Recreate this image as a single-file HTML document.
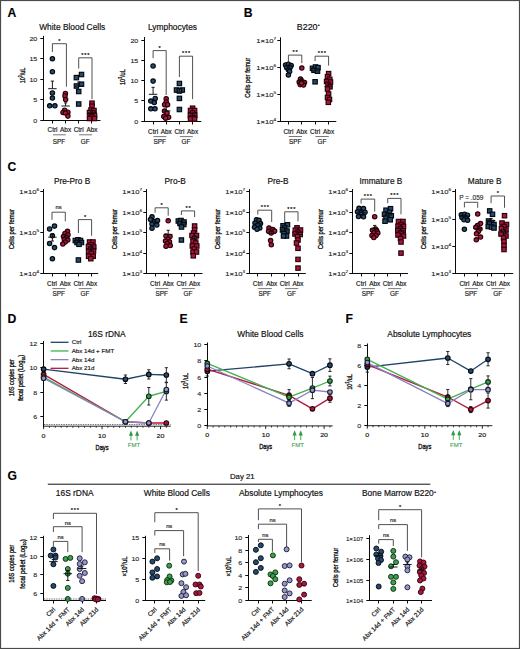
<!DOCTYPE html>
<html><head><meta charset="utf-8"><style>
html,body{margin:0;padding:0;background:#fff;}
svg{display:block;font-family:"Liberation Sans", sans-serif;}
</style></head><body>
<svg width="520" height="649" viewBox="0 0 520 649">
<rect width="520" height="649" fill="#fff"/>
<rect x="0.5" y="0.5" width="519" height="648" fill="none" stroke="#4a4a4a" stroke-width="1.2"/>
<text x="7.6" y="16.5" font-size="12.2" font-weight="bold" stroke="#000" stroke-width="0.1">A</text>
<text x="243.8" y="16.5" font-size="12.2" font-weight="bold" stroke="#000" stroke-width="0.1">B</text>
<text x="7.4" y="171" font-size="12.2" font-weight="bold" stroke="#000" stroke-width="0.1">C</text>
<text x="7.6" y="322.7" font-size="12.2" font-weight="bold" stroke="#000" stroke-width="0.1">D</text>
<text x="179.5" y="322.7" font-size="12.2" font-weight="bold" stroke="#000" stroke-width="0.1">E</text>
<text x="345.5" y="322.7" font-size="12.2" font-weight="bold" stroke="#000" stroke-width="0.1">F</text>
<text x="7.4" y="479.5" font-size="12.2" font-weight="bold" stroke="#000" stroke-width="0.1">G</text>
<line x1="43.5" y1="35.9" x2="43.5" y2="121" stroke="#0a0a0a" stroke-width="1"/>
<line x1="40.3" y1="120.5" x2="43.5" y2="120.5" stroke="#0a0a0a" stroke-width="1"/>
<text x="37.3" y="122.66" font-size="6" text-anchor="end" fill="#1a1a1a" stroke="#1a1a1a" stroke-width="0.1" transform="translate(37.3 122.66) scale(1.18 1) translate(-37.3 -122.66)">0</text>
<line x1="40.3" y1="99.5" x2="43.5" y2="99.5" stroke="#0a0a0a" stroke-width="1"/>
<text x="37.3" y="101.66" font-size="6" text-anchor="end" fill="#1a1a1a" stroke="#1a1a1a" stroke-width="0.1" transform="translate(37.3 101.66) scale(1.18 1) translate(-37.3 -101.66)">5</text>
<line x1="40.3" y1="79.5" x2="43.5" y2="79.5" stroke="#0a0a0a" stroke-width="1"/>
<text x="37.3" y="81.66" font-size="6" text-anchor="end" fill="#1a1a1a" stroke="#1a1a1a" stroke-width="0.1" transform="translate(37.3 81.66) scale(1.18 1) translate(-37.3 -81.66)">10</text>
<line x1="40.3" y1="58.5" x2="43.5" y2="58.5" stroke="#0a0a0a" stroke-width="1"/>
<text x="37.3" y="60.66" font-size="6" text-anchor="end" fill="#1a1a1a" stroke="#1a1a1a" stroke-width="0.1" transform="translate(37.3 60.66) scale(1.18 1) translate(-37.3 -60.66)">15</text>
<line x1="40.3" y1="38.5" x2="43.5" y2="38.5" stroke="#0a0a0a" stroke-width="1"/>
<text x="37.3" y="40.66" font-size="6" text-anchor="end" fill="#1a1a1a" stroke="#1a1a1a" stroke-width="0.1" transform="translate(37.3 40.66) scale(1.18 1) translate(-37.3 -40.66)">20</text>
<line x1="43" y1="120.5" x2="100.5" y2="120.5" stroke="#0a0a0a" stroke-width="1"/>
<line x1="52.5" y1="120.5" x2="52.5" y2="123.5" stroke="#0a0a0a" stroke-width="1"/>
<line x1="65.5" y1="120.5" x2="65.5" y2="123.5" stroke="#0a0a0a" stroke-width="1"/>
<line x1="78.5" y1="120.5" x2="78.5" y2="123.5" stroke="#0a0a0a" stroke-width="1"/>
<line x1="91.5" y1="120.5" x2="91.5" y2="123.5" stroke="#0a0a0a" stroke-width="1"/>
<text x="72.2" y="30" font-size="8.4" text-anchor="middle" fill="#111" stroke="#111" stroke-width="0.18">White Blood Cells</text>
<polyline points="52.4,52 52.4,43.7 66.4,43.7 66.4,86.7" fill="none" stroke="#484848" stroke-width="0.95" stroke-linejoin="round"/>
<text x="59.4" y="42.6" font-size="5.6" text-anchor="middle" fill="#111" stroke="#111" stroke-width="0.2">*</text>
<polyline points="78.7,68.6 78.7,57.8 92,57.8 92,99.1" fill="none" stroke="#484848" stroke-width="0.95" stroke-linejoin="round"/>
<text x="82.35" y="56.7" font-size="5.6" text-anchor="middle" fill="#111" stroke="#111" stroke-width="0.2">*</text>
<text x="85.35" y="56.7" font-size="5.6" text-anchor="middle" fill="#111" stroke="#111" stroke-width="0.2">*</text>
<text x="88.35" y="56.7" font-size="5.6" text-anchor="middle" fill="#111" stroke="#111" stroke-width="0.2">*</text>
<circle cx="52.4" cy="58.7" r="2.2" fill="#244b6e" stroke="#03080e" stroke-width="1.15"/>
<circle cx="52.4" cy="71.7" r="2.2" fill="#244b6e" stroke="#03080e" stroke-width="1.15"/>
<circle cx="52.4" cy="92.9" r="2.2" fill="#244b6e" stroke="#03080e" stroke-width="1.15"/>
<circle cx="52.4" cy="98" r="2.2" fill="#244b6e" stroke="#03080e" stroke-width="1.15"/>
<circle cx="49.7" cy="105.8" r="2.2" fill="#244b6e" stroke="#03080e" stroke-width="1.15"/>
<circle cx="54.9" cy="105.8" r="2.2" fill="#244b6e" stroke="#03080e" stroke-width="1.15"/>
<circle cx="65.4" cy="93.4" r="2.2" fill="#a9173e" stroke="#2a0108" stroke-width="1.15"/>
<circle cx="65" cy="95.9" r="2.2" fill="#a9173e" stroke="#2a0108" stroke-width="1.15"/>
<circle cx="65.6" cy="99.6" r="2.2" fill="#a9173e" stroke="#2a0108" stroke-width="1.15"/>
<circle cx="64.6" cy="110.2" r="2.2" fill="#a9173e" stroke="#2a0108" stroke-width="1.15"/>
<circle cx="63" cy="112.4" r="2.2" fill="#a9173e" stroke="#2a0108" stroke-width="1.15"/>
<circle cx="67.9" cy="112.2" r="2.2" fill="#a9173e" stroke="#2a0108" stroke-width="1.15"/>
<circle cx="65.4" cy="113" r="2.2" fill="#a9173e" stroke="#2a0108" stroke-width="1.15"/>
<circle cx="67.9" cy="116.1" r="2.2" fill="#a9173e" stroke="#2a0108" stroke-width="1.15"/>
<rect x="79.3" y="72.3" width="4.4" height="4.4" fill="#244b6e" stroke="#03080e" stroke-width="1.15"/>
<rect x="74.2" y="75.4" width="4.4" height="4.4" fill="#244b6e" stroke="#03080e" stroke-width="1.15"/>
<rect x="79.3" y="82" width="4.4" height="4.4" fill="#244b6e" stroke="#03080e" stroke-width="1.15"/>
<rect x="74.2" y="83.8" width="4.4" height="4.4" fill="#244b6e" stroke="#03080e" stroke-width="1.15"/>
<rect x="76.5" y="89.3" width="4.4" height="4.4" fill="#244b6e" stroke="#03080e" stroke-width="1.15"/>
<rect x="76.5" y="101.8" width="4.4" height="4.4" fill="#244b6e" stroke="#03080e" stroke-width="1.15"/>
<rect x="89.8" y="101" width="4.4" height="4.4" fill="#a9173e" stroke="#2a0108" stroke-width="1.15"/>
<rect x="89.8" y="104" width="4.4" height="4.4" fill="#a9173e" stroke="#2a0108" stroke-width="1.15"/>
<rect x="88.8" y="107.8" width="4.4" height="4.4" fill="#a9173e" stroke="#2a0108" stroke-width="1.15"/>
<rect x="91.8" y="108.3" width="4.4" height="4.4" fill="#a9173e" stroke="#2a0108" stroke-width="1.15"/>
<rect x="87.3" y="110.3" width="4.4" height="4.4" fill="#a9173e" stroke="#2a0108" stroke-width="1.15"/>
<rect x="90.8" y="110.8" width="4.4" height="4.4" fill="#a9173e" stroke="#2a0108" stroke-width="1.15"/>
<rect x="87.8" y="113.3" width="4.4" height="4.4" fill="#a9173e" stroke="#2a0108" stroke-width="1.15"/>
<rect x="92.3" y="113.3" width="4.4" height="4.4" fill="#a9173e" stroke="#2a0108" stroke-width="1.15"/>
<rect x="89.3" y="114.8" width="4.4" height="4.4" fill="#a9173e" stroke="#2a0108" stroke-width="1.15"/>
<rect x="87.3" y="116.3" width="4.4" height="4.4" fill="#a9173e" stroke="#2a0108" stroke-width="1.15"/>
<rect x="92.3" y="116.3" width="4.4" height="4.4" fill="#a9173e" stroke="#2a0108" stroke-width="1.15"/>
<line x1="48.15" y1="88.7" x2="56.65" y2="88.7" stroke="#111" stroke-width="0.95"/>
<line x1="52.4" y1="81.1" x2="52.4" y2="88.7" stroke="#111" stroke-width="0.95"/>
<line x1="50.8" y1="81.1" x2="54" y2="81.1" stroke="#111" stroke-width="0.95"/>
<line x1="61.35" y1="106" x2="69.85" y2="106" stroke="#111" stroke-width="0.95"/>
<line x1="65.6" y1="102.9" x2="65.6" y2="106" stroke="#111" stroke-width="0.95"/>
<line x1="64" y1="102.9" x2="67.2" y2="102.9" stroke="#111" stroke-width="0.95"/>
<line x1="74.45" y1="86.2" x2="82.95" y2="86.2" stroke="#111" stroke-width="0.95"/>
<line x1="78.7" y1="82" x2="78.7" y2="86.2" stroke="#111" stroke-width="0.95"/>
<line x1="77.1" y1="82" x2="80.3" y2="82" stroke="#111" stroke-width="0.95"/>
<line x1="87.95" y1="112.8" x2="96.45" y2="112.8" stroke="#111" stroke-width="0.95"/>
<line x1="92.2" y1="110.5" x2="92.2" y2="112.8" stroke="#111" stroke-width="0.95"/>
<line x1="90.6" y1="110.5" x2="93.8" y2="110.5" stroke="#111" stroke-width="0.95"/>
<text x="24.5" y="75.5" font-size="7.6" text-anchor="middle" fill="#111" stroke="#111" stroke-width="0.32" transform="rotate(-90 24.5 75.5)" textLength="15.6" lengthAdjust="spacingAndGlyphs">10<tspan font-size="4.5" dy="-2.9">3</tspan><tspan dy="2.9">/uL</tspan></text>
<text x="52.5" y="131.8" font-size="6.4" text-anchor="middle" fill="#1a1a1a" stroke="#1a1a1a" stroke-width="0.18">Ctrl</text>
<text x="65.6" y="131.8" font-size="6.4" text-anchor="middle" fill="#1a1a1a" stroke="#1a1a1a" stroke-width="0.18">Abx</text>
<text x="78.7" y="131.8" font-size="6.4" text-anchor="middle" fill="#1a1a1a" stroke="#1a1a1a" stroke-width="0.18">Ctrl</text>
<text x="91.9" y="131.8" font-size="6.4" text-anchor="middle" fill="#1a1a1a" stroke="#1a1a1a" stroke-width="0.18">Abx</text>
<line x1="52.9" y1="134.8" x2="65.8" y2="134.8" stroke="#555" stroke-width="0.8"/>
<line x1="79.1" y1="134.8" x2="92.1" y2="134.8" stroke="#555" stroke-width="0.8"/>
<text x="59.05" y="143.7" font-size="6.4" text-anchor="middle" fill="#1a1a1a" stroke="#1a1a1a" stroke-width="0.18">SPF</text>
<text x="85.3" y="143.7" font-size="6.4" text-anchor="middle" fill="#1a1a1a" stroke="#1a1a1a" stroke-width="0.18">GF</text>
<line x1="144.5" y1="37" x2="144.5" y2="122" stroke="#0a0a0a" stroke-width="1"/>
<line x1="141.3" y1="121.5" x2="144.5" y2="121.5" stroke="#0a0a0a" stroke-width="1"/>
<text x="138.3" y="123.66" font-size="6" text-anchor="end" fill="#1a1a1a" stroke="#1a1a1a" stroke-width="0.1" transform="translate(138.3 123.66) scale(1.18 1) translate(-138.3 -123.66)">0</text>
<line x1="141.3" y1="100.5" x2="144.5" y2="100.5" stroke="#0a0a0a" stroke-width="1"/>
<text x="138.3" y="102.66" font-size="6" text-anchor="end" fill="#1a1a1a" stroke="#1a1a1a" stroke-width="0.1" transform="translate(138.3 102.66) scale(1.18 1) translate(-138.3 -102.66)">5</text>
<line x1="141.3" y1="80.5" x2="144.5" y2="80.5" stroke="#0a0a0a" stroke-width="1"/>
<text x="138.3" y="82.66" font-size="6" text-anchor="end" fill="#1a1a1a" stroke="#1a1a1a" stroke-width="0.1" transform="translate(138.3 82.66) scale(1.18 1) translate(-138.3 -82.66)">10</text>
<line x1="141.3" y1="60.5" x2="144.5" y2="60.5" stroke="#0a0a0a" stroke-width="1"/>
<text x="138.3" y="62.66" font-size="6" text-anchor="end" fill="#1a1a1a" stroke="#1a1a1a" stroke-width="0.1" transform="translate(138.3 62.66) scale(1.18 1) translate(-138.3 -62.66)">15</text>
<line x1="141.3" y1="40.5" x2="144.5" y2="40.5" stroke="#0a0a0a" stroke-width="1"/>
<text x="138.3" y="42.66" font-size="6" text-anchor="end" fill="#1a1a1a" stroke="#1a1a1a" stroke-width="0.1" transform="translate(138.3 42.66) scale(1.18 1) translate(-138.3 -42.66)">20</text>
<line x1="144" y1="121.5" x2="201.3" y2="121.5" stroke="#0a0a0a" stroke-width="1"/>
<line x1="153.5" y1="121.5" x2="153.5" y2="124.5" stroke="#0a0a0a" stroke-width="1"/>
<line x1="166.5" y1="121.5" x2="166.5" y2="124.5" stroke="#0a0a0a" stroke-width="1"/>
<line x1="179.5" y1="121.5" x2="179.5" y2="124.5" stroke="#0a0a0a" stroke-width="1"/>
<line x1="192.5" y1="121.5" x2="192.5" y2="124.5" stroke="#0a0a0a" stroke-width="1"/>
<text x="172.5" y="30" font-size="8.4" text-anchor="middle" fill="#111" stroke="#111" stroke-width="0.18">Lymphocytes</text>
<polyline points="153.1,58.2 153.1,50.6 166.2,50.6 166.2,95" fill="none" stroke="#484848" stroke-width="0.95" stroke-linejoin="round"/>
<text x="159.65" y="49.5" font-size="5.6" text-anchor="middle" fill="#111" stroke="#111" stroke-width="0.2">*</text>
<polyline points="179.4,77 179.4,56.2 192.6,56.2 192.6,99.1" fill="none" stroke="#484848" stroke-width="0.95" stroke-linejoin="round"/>
<text x="183" y="55.1" font-size="5.6" text-anchor="middle" fill="#111" stroke="#111" stroke-width="0.2">*</text>
<text x="186" y="55.1" font-size="5.6" text-anchor="middle" fill="#111" stroke="#111" stroke-width="0.2">*</text>
<text x="189" y="55.1" font-size="5.6" text-anchor="middle" fill="#111" stroke="#111" stroke-width="0.2">*</text>
<circle cx="153.1" cy="65.9" r="2.2" fill="#244b6e" stroke="#03080e" stroke-width="1.15"/>
<circle cx="153.1" cy="81.1" r="2.2" fill="#244b6e" stroke="#03080e" stroke-width="1.15"/>
<circle cx="155.2" cy="98.4" r="2.2" fill="#244b6e" stroke="#03080e" stroke-width="1.15"/>
<circle cx="150.8" cy="101" r="2.2" fill="#244b6e" stroke="#03080e" stroke-width="1.15"/>
<circle cx="154.3" cy="102.5" r="2.2" fill="#244b6e" stroke="#03080e" stroke-width="1.15"/>
<circle cx="150.8" cy="108.8" r="2.2" fill="#244b6e" stroke="#03080e" stroke-width="1.15"/>
<circle cx="155" cy="108.8" r="2.2" fill="#244b6e" stroke="#03080e" stroke-width="1.15"/>
<circle cx="166.2" cy="98.8" r="2.2" fill="#a9173e" stroke="#2a0108" stroke-width="1.15"/>
<circle cx="166.2" cy="102" r="2.2" fill="#a9173e" stroke="#2a0108" stroke-width="1.15"/>
<circle cx="164.6" cy="104.7" r="2.2" fill="#a9173e" stroke="#2a0108" stroke-width="1.15"/>
<circle cx="167.6" cy="104.7" r="2.2" fill="#a9173e" stroke="#2a0108" stroke-width="1.15"/>
<circle cx="164.5" cy="111" r="2.2" fill="#a9173e" stroke="#2a0108" stroke-width="1.15"/>
<circle cx="167" cy="113" r="2.2" fill="#a9173e" stroke="#2a0108" stroke-width="1.15"/>
<circle cx="163.8" cy="116.5" r="2.2" fill="#a9173e" stroke="#2a0108" stroke-width="1.15"/>
<circle cx="168.6" cy="117.3" r="2.2" fill="#a9173e" stroke="#2a0108" stroke-width="1.15"/>
<circle cx="165.6" cy="118.2" r="2.2" fill="#a9173e" stroke="#2a0108" stroke-width="1.15"/>
<rect x="177.2" y="81.3" width="4.4" height="4.4" fill="#244b6e" stroke="#03080e" stroke-width="1.15"/>
<rect x="174.3" y="87.8" width="4.4" height="4.4" fill="#244b6e" stroke="#03080e" stroke-width="1.15"/>
<rect x="180.1" y="87.8" width="4.4" height="4.4" fill="#244b6e" stroke="#03080e" stroke-width="1.15"/>
<rect x="177.2" y="88.8" width="4.4" height="4.4" fill="#244b6e" stroke="#03080e" stroke-width="1.15"/>
<rect x="177.2" y="96.2" width="4.4" height="4.4" fill="#244b6e" stroke="#03080e" stroke-width="1.15"/>
<rect x="177.2" y="107.3" width="4.4" height="4.4" fill="#244b6e" stroke="#03080e" stroke-width="1.15"/>
<rect x="190.4" y="106" width="4.4" height="4.4" fill="#a9173e" stroke="#2a0108" stroke-width="1.15"/>
<rect x="188.3" y="108.3" width="4.4" height="4.4" fill="#a9173e" stroke="#2a0108" stroke-width="1.15"/>
<rect x="192.4" y="108.3" width="4.4" height="4.4" fill="#a9173e" stroke="#2a0108" stroke-width="1.15"/>
<rect x="190.4" y="110.8" width="4.4" height="4.4" fill="#a9173e" stroke="#2a0108" stroke-width="1.15"/>
<rect x="188.2" y="113.1" width="4.4" height="4.4" fill="#a9173e" stroke="#2a0108" stroke-width="1.15"/>
<rect x="192.6" y="113.1" width="4.4" height="4.4" fill="#a9173e" stroke="#2a0108" stroke-width="1.15"/>
<rect x="190.4" y="115.3" width="4.4" height="4.4" fill="#a9173e" stroke="#2a0108" stroke-width="1.15"/>
<rect x="188.3" y="116.8" width="4.4" height="4.4" fill="#a9173e" stroke="#2a0108" stroke-width="1.15"/>
<rect x="192.4" y="116.8" width="4.4" height="4.4" fill="#a9173e" stroke="#2a0108" stroke-width="1.15"/>
<line x1="148.85" y1="94.3" x2="157.35" y2="94.3" stroke="#111" stroke-width="0.95"/>
<line x1="153.1" y1="87.3" x2="153.1" y2="94.3" stroke="#111" stroke-width="0.95"/>
<line x1="151.5" y1="87.3" x2="154.7" y2="87.3" stroke="#111" stroke-width="0.95"/>
<line x1="161.95" y1="110.9" x2="170.45" y2="110.9" stroke="#111" stroke-width="0.95"/>
<line x1="166.2" y1="106.8" x2="166.2" y2="110.9" stroke="#111" stroke-width="0.95"/>
<line x1="164.6" y1="106.8" x2="167.8" y2="106.8" stroke="#111" stroke-width="0.95"/>
<line x1="175.15" y1="92.3" x2="183.65" y2="92.3" stroke="#111" stroke-width="0.95"/>
<line x1="179.4" y1="88.5" x2="179.4" y2="92.3" stroke="#111" stroke-width="0.95"/>
<line x1="177.8" y1="88.5" x2="181" y2="88.5" stroke="#111" stroke-width="0.95"/>
<line x1="188.35" y1="115.8" x2="196.85" y2="115.8" stroke="#111" stroke-width="0.95"/>
<line x1="192.6" y1="113.5" x2="192.6" y2="115.8" stroke="#111" stroke-width="0.95"/>
<line x1="191" y1="113.5" x2="194.2" y2="113.5" stroke="#111" stroke-width="0.95"/>
<text x="125" y="77.1" font-size="7.6" text-anchor="middle" fill="#111" stroke="#111" stroke-width="0.32" transform="rotate(-90 125 77.1)" textLength="15.9" lengthAdjust="spacingAndGlyphs">10<tspan font-size="4.5" dy="-2.9">3</tspan><tspan dy="2.9">/uL</tspan></text>
<text x="153.1" y="133.6" font-size="6.4" text-anchor="middle" fill="#1a1a1a" stroke="#1a1a1a" stroke-width="0.18">Ctrl</text>
<text x="166.2" y="133.6" font-size="6.4" text-anchor="middle" fill="#1a1a1a" stroke="#1a1a1a" stroke-width="0.18">Abx</text>
<text x="179.4" y="133.6" font-size="6.4" text-anchor="middle" fill="#1a1a1a" stroke="#1a1a1a" stroke-width="0.18">Ctrl</text>
<text x="192.6" y="133.6" font-size="6.4" text-anchor="middle" fill="#1a1a1a" stroke="#1a1a1a" stroke-width="0.18">Abx</text>
<line x1="153.5" y1="136.6" x2="166.4" y2="136.6" stroke="#555" stroke-width="0.8"/>
<line x1="179.8" y1="136.6" x2="192.8" y2="136.6" stroke="#555" stroke-width="0.8"/>
<text x="159.65" y="143.6" font-size="6.4" text-anchor="middle" fill="#1a1a1a" stroke="#1a1a1a" stroke-width="0.18">SPF</text>
<text x="186" y="143.6" font-size="6.4" text-anchor="middle" fill="#1a1a1a" stroke="#1a1a1a" stroke-width="0.18">GF</text>
<line x1="280.5" y1="37.3" x2="280.5" y2="122" stroke="#0a0a0a" stroke-width="1"/>
<line x1="277.3" y1="40.5" x2="280.5" y2="40.5" stroke="#0a0a0a" stroke-width="1"/>
<text x="276.1" y="42.62" font-size="5.9" text-anchor="end" fill="#1a1a1a" stroke="#1a1a1a" stroke-width="0.1" transform="translate(276.1 42.62) scale(1.3 1) translate(-276.1 -42.62)">1×10<tspan font-size="3.66" dy="-2.36">7</tspan></text>
<line x1="277.3" y1="67.5" x2="280.5" y2="67.5" stroke="#0a0a0a" stroke-width="1"/>
<text x="276.1" y="69.62" font-size="5.9" text-anchor="end" fill="#1a1a1a" stroke="#1a1a1a" stroke-width="0.1" transform="translate(276.1 69.62) scale(1.3 1) translate(-276.1 -69.62)">1×10<tspan font-size="3.66" dy="-2.36">6</tspan></text>
<line x1="277.3" y1="94.5" x2="280.5" y2="94.5" stroke="#0a0a0a" stroke-width="1"/>
<text x="276.1" y="96.62" font-size="5.9" text-anchor="end" fill="#1a1a1a" stroke="#1a1a1a" stroke-width="0.1" transform="translate(276.1 96.62) scale(1.3 1) translate(-276.1 -96.62)">1×10<tspan font-size="3.66" dy="-2.36">5</tspan></text>
<line x1="277.3" y1="121.5" x2="280.5" y2="121.5" stroke="#0a0a0a" stroke-width="1"/>
<text x="276.1" y="123.62" font-size="5.9" text-anchor="end" fill="#1a1a1a" stroke="#1a1a1a" stroke-width="0.1" transform="translate(276.1 123.62) scale(1.3 1) translate(-276.1 -123.62)">1×10<tspan font-size="3.66" dy="-2.36">4</tspan></text>
<line x1="280" y1="121.5" x2="336.3" y2="121.5" stroke="#0a0a0a" stroke-width="1"/>
<line x1="288.5" y1="121.5" x2="288.5" y2="124.5" stroke="#0a0a0a" stroke-width="1"/>
<line x1="301.5" y1="121.5" x2="301.5" y2="124.5" stroke="#0a0a0a" stroke-width="1"/>
<line x1="315.5" y1="121.5" x2="315.5" y2="124.5" stroke="#0a0a0a" stroke-width="1"/>
<line x1="328.5" y1="121.5" x2="328.5" y2="124.5" stroke="#0a0a0a" stroke-width="1"/>
<text x="308.4" y="29.6" font-size="8.9" text-anchor="middle" fill="#111" stroke="#111" stroke-width="0.18">B220<tspan font-size="4.2" dy="-3.4">+</tspan></text>
<polyline points="288.4,62.4 288.4,55.1 301.8,55.1 301.8,63.1" fill="none" stroke="#484848" stroke-width="0.95" stroke-linejoin="round"/>
<text x="293.6" y="54" font-size="5.6" text-anchor="middle" fill="#111" stroke="#111" stroke-width="0.2">*</text>
<text x="296.6" y="54" font-size="5.6" text-anchor="middle" fill="#111" stroke="#111" stroke-width="0.2">*</text>
<polyline points="315.1,61 315.1,56.2 328.6,56.2 328.6,65.6" fill="none" stroke="#484848" stroke-width="0.95" stroke-linejoin="round"/>
<text x="318.85" y="55.1" font-size="5.6" text-anchor="middle" fill="#111" stroke="#111" stroke-width="0.2">*</text>
<text x="321.85" y="55.1" font-size="5.6" text-anchor="middle" fill="#111" stroke="#111" stroke-width="0.2">*</text>
<text x="324.85" y="55.1" font-size="5.6" text-anchor="middle" fill="#111" stroke="#111" stroke-width="0.2">*</text>
<circle cx="285.6" cy="64.9" r="2.2" fill="#244b6e" stroke="#03080e" stroke-width="1.15"/>
<circle cx="288.4" cy="64.2" r="2.2" fill="#244b6e" stroke="#03080e" stroke-width="1.15"/>
<circle cx="291.2" cy="65.5" r="2.2" fill="#244b6e" stroke="#03080e" stroke-width="1.15"/>
<circle cx="286.6" cy="67.5" r="2.2" fill="#244b6e" stroke="#03080e" stroke-width="1.15"/>
<circle cx="290" cy="67.5" r="2.2" fill="#244b6e" stroke="#03080e" stroke-width="1.15"/>
<circle cx="288.4" cy="69.8" r="2.2" fill="#244b6e" stroke="#03080e" stroke-width="1.15"/>
<circle cx="289.6" cy="71.4" r="2.2" fill="#244b6e" stroke="#03080e" stroke-width="1.15"/>
<circle cx="288.4" cy="75" r="2.2" fill="#244b6e" stroke="#03080e" stroke-width="1.15"/>
<circle cx="301.8" cy="68" r="2.2" fill="#a9173e" stroke="#2a0108" stroke-width="1.15"/>
<circle cx="300.5" cy="79" r="2.2" fill="#a9173e" stroke="#2a0108" stroke-width="1.15"/>
<circle cx="299.2" cy="82" r="2.2" fill="#a9173e" stroke="#2a0108" stroke-width="1.15"/>
<circle cx="302" cy="81.5" r="2.2" fill="#a9173e" stroke="#2a0108" stroke-width="1.15"/>
<circle cx="304.5" cy="82.5" r="2.2" fill="#a9173e" stroke="#2a0108" stroke-width="1.15"/>
<circle cx="300.2" cy="84.6" r="2.2" fill="#a9173e" stroke="#2a0108" stroke-width="1.15"/>
<circle cx="303.5" cy="85" r="2.2" fill="#a9173e" stroke="#2a0108" stroke-width="1.15"/>
<circle cx="301.5" cy="83" r="2.2" fill="#a9173e" stroke="#2a0108" stroke-width="1.15"/>
<rect x="310.3" y="66.1" width="4.4" height="4.4" fill="#244b6e" stroke="#03080e" stroke-width="1.15"/>
<rect x="313.3" y="64.8" width="4.4" height="4.4" fill="#244b6e" stroke="#03080e" stroke-width="1.15"/>
<rect x="315.8" y="65.4" width="4.4" height="4.4" fill="#244b6e" stroke="#03080e" stroke-width="1.15"/>
<rect x="311.8" y="68.1" width="4.4" height="4.4" fill="#244b6e" stroke="#03080e" stroke-width="1.15"/>
<rect x="315.3" y="69" width="4.4" height="4.4" fill="#244b6e" stroke="#03080e" stroke-width="1.15"/>
<rect x="312.9" y="79.6" width="4.4" height="4.4" fill="#244b6e" stroke="#03080e" stroke-width="1.15"/>
<rect x="326.4" y="71.4" width="4.4" height="4.4" fill="#a9173e" stroke="#2a0108" stroke-width="1.15"/>
<rect x="325.3" y="74.6" width="4.4" height="4.4" fill="#a9173e" stroke="#2a0108" stroke-width="1.15"/>
<rect x="327.6" y="77.1" width="4.4" height="4.4" fill="#a9173e" stroke="#2a0108" stroke-width="1.15"/>
<rect x="324.4" y="79.3" width="4.4" height="4.4" fill="#a9173e" stroke="#2a0108" stroke-width="1.15"/>
<rect x="328.3" y="79.8" width="4.4" height="4.4" fill="#a9173e" stroke="#2a0108" stroke-width="1.15"/>
<rect x="325.8" y="82.1" width="4.4" height="4.4" fill="#a9173e" stroke="#2a0108" stroke-width="1.15"/>
<rect x="327.8" y="84.6" width="4.4" height="4.4" fill="#a9173e" stroke="#2a0108" stroke-width="1.15"/>
<rect x="325.3" y="86.8" width="4.4" height="4.4" fill="#a9173e" stroke="#2a0108" stroke-width="1.15"/>
<rect x="326.4" y="91.8" width="4.4" height="4.4" fill="#a9173e" stroke="#2a0108" stroke-width="1.15"/>
<rect x="325.3" y="95.3" width="4.4" height="4.4" fill="#a9173e" stroke="#2a0108" stroke-width="1.15"/>
<rect x="327.3" y="97.3" width="4.4" height="4.4" fill="#a9173e" stroke="#2a0108" stroke-width="1.15"/>
<rect x="326.1" y="100.1" width="4.4" height="4.4" fill="#a9173e" stroke="#2a0108" stroke-width="1.15"/>
<line x1="284.15" y1="68.6" x2="292.65" y2="68.6" stroke="#111" stroke-width="0.95"/>
<line x1="288.4" y1="66.5" x2="288.4" y2="68.6" stroke="#111" stroke-width="0.95"/>
<line x1="286.8" y1="66.5" x2="290" y2="66.5" stroke="#111" stroke-width="0.95"/>
<line x1="297.55" y1="80.8" x2="306.05" y2="80.8" stroke="#111" stroke-width="0.95"/>
<line x1="301.8" y1="78.5" x2="301.8" y2="80.8" stroke="#111" stroke-width="0.95"/>
<line x1="300.2" y1="78.5" x2="303.4" y2="78.5" stroke="#111" stroke-width="0.95"/>
<line x1="310.85" y1="70.8" x2="319.35" y2="70.8" stroke="#111" stroke-width="0.95"/>
<line x1="315.1" y1="68.6" x2="315.1" y2="70.8" stroke="#111" stroke-width="0.95"/>
<line x1="313.5" y1="68.6" x2="316.7" y2="68.6" stroke="#111" stroke-width="0.95"/>
<line x1="324.35" y1="86.3" x2="332.85" y2="86.3" stroke="#111" stroke-width="0.95"/>
<line x1="328.6" y1="83" x2="328.6" y2="86.3" stroke="#111" stroke-width="0.95"/>
<line x1="327" y1="83" x2="330.2" y2="83" stroke="#111" stroke-width="0.95"/>
<text x="250.5" y="77.7" font-size="7.3" text-anchor="middle" fill="#111" stroke="#111" stroke-width="0.32" transform="rotate(-90 250.5 77.7)" textLength="40" lengthAdjust="spacingAndGlyphs">Cells per femur</text>
<text x="288.4" y="133.5" font-size="6.4" text-anchor="middle" fill="#1a1a1a" stroke="#1a1a1a" stroke-width="0.18">Ctrl</text>
<text x="301.8" y="133.5" font-size="6.4" text-anchor="middle" fill="#1a1a1a" stroke="#1a1a1a" stroke-width="0.18">Abx</text>
<text x="315.1" y="133.5" font-size="6.4" text-anchor="middle" fill="#1a1a1a" stroke="#1a1a1a" stroke-width="0.18">Ctrl</text>
<text x="328.6" y="133.5" font-size="6.4" text-anchor="middle" fill="#1a1a1a" stroke="#1a1a1a" stroke-width="0.18">Abx</text>
<line x1="288.8" y1="136.5" x2="302" y2="136.5" stroke="#555" stroke-width="0.8"/>
<line x1="315.5" y1="136.5" x2="328.8" y2="136.5" stroke="#555" stroke-width="0.8"/>
<text x="295.1" y="143.7" font-size="6.4" text-anchor="middle" fill="#1a1a1a" stroke="#1a1a1a" stroke-width="0.18">SPF</text>
<text x="321.85" y="143.7" font-size="6.4" text-anchor="middle" fill="#1a1a1a" stroke="#1a1a1a" stroke-width="0.18">GF</text>
<line x1="43.5" y1="189" x2="43.5" y2="274" stroke="#0a0a0a" stroke-width="1"/>
<line x1="40.3" y1="273.5" x2="43.5" y2="273.5" stroke="#0a0a0a" stroke-width="1"/>
<text x="39.1" y="275.62" font-size="5.9" text-anchor="end" fill="#1a1a1a" stroke="#1a1a1a" stroke-width="0.1" transform="translate(39.1 275.62) scale(1.3 1) translate(-39.1 -275.62)">1×10<tspan font-size="3.66" dy="-2.36">4</tspan></text>
<line x1="40.3" y1="232.5" x2="43.5" y2="232.5" stroke="#0a0a0a" stroke-width="1"/>
<text x="39.1" y="234.62" font-size="5.9" text-anchor="end" fill="#1a1a1a" stroke="#1a1a1a" stroke-width="0.1" transform="translate(39.1 234.62) scale(1.3 1) translate(-39.1 -234.62)">1×10<tspan font-size="3.66" dy="-2.36">5</tspan></text>
<line x1="40.3" y1="191.5" x2="43.5" y2="191.5" stroke="#0a0a0a" stroke-width="1"/>
<text x="39.1" y="193.62" font-size="5.9" text-anchor="end" fill="#1a1a1a" stroke="#1a1a1a" stroke-width="0.1" transform="translate(39.1 193.62) scale(1.3 1) translate(-39.1 -193.62)">1×10<tspan font-size="3.66" dy="-2.36">6</tspan></text>
<line x1="43" y1="273.5" x2="98.2" y2="273.5" stroke="#0a0a0a" stroke-width="1"/>
<line x1="52.5" y1="273.5" x2="52.5" y2="276.5" stroke="#0a0a0a" stroke-width="1"/>
<line x1="65.5" y1="273.5" x2="65.5" y2="276.5" stroke="#0a0a0a" stroke-width="1"/>
<line x1="78.5" y1="273.5" x2="78.5" y2="276.5" stroke="#0a0a0a" stroke-width="1"/>
<line x1="91.5" y1="273.5" x2="91.5" y2="276.5" stroke="#0a0a0a" stroke-width="1"/>
<text x="72.1" y="184.3" font-size="8.3" text-anchor="middle" fill="#111" stroke="#111" stroke-width="0.18">Pre-Pro B</text>
<polyline points="52,219.9 52,212.2 65.3,212.2 65.3,221.3" fill="none" stroke="#484848" stroke-width="0.95" stroke-linejoin="round"/>
<text x="58.65" y="209.4" font-size="5.8" text-anchor="middle" fill="#222" stroke="#222" stroke-width="0.18">ns</text>
<polyline points="78.4,233 78.4,219.6 91.6,219.6 91.6,235.8" fill="none" stroke="#484848" stroke-width="0.95" stroke-linejoin="round"/>
<text x="85" y="218.5" font-size="5.6" text-anchor="middle" fill="#111" stroke="#111" stroke-width="0.2">*</text>
<circle cx="54.5" cy="226.1" r="2.2" fill="#244b6e" stroke="#03080e" stroke-width="1.15"/>
<circle cx="49.6" cy="228.9" r="2.2" fill="#244b6e" stroke="#03080e" stroke-width="1.15"/>
<circle cx="52.4" cy="235.8" r="2.2" fill="#244b6e" stroke="#03080e" stroke-width="1.15"/>
<circle cx="49.6" cy="243.4" r="2.2" fill="#244b6e" stroke="#03080e" stroke-width="1.15"/>
<circle cx="54.5" cy="247.6" r="2.2" fill="#244b6e" stroke="#03080e" stroke-width="1.15"/>
<circle cx="52.4" cy="258.7" r="2.2" fill="#244b6e" stroke="#03080e" stroke-width="1.15"/>
<circle cx="67.5" cy="231.3" r="2.2" fill="#a9173e" stroke="#2a0108" stroke-width="1.15"/>
<circle cx="65" cy="233.5" r="2.2" fill="#a9173e" stroke="#2a0108" stroke-width="1.15"/>
<circle cx="68" cy="234.8" r="2.2" fill="#a9173e" stroke="#2a0108" stroke-width="1.15"/>
<circle cx="63.5" cy="236.5" r="2.2" fill="#a9173e" stroke="#2a0108" stroke-width="1.15"/>
<circle cx="66.5" cy="237.5" r="2.2" fill="#a9173e" stroke="#2a0108" stroke-width="1.15"/>
<circle cx="64.3" cy="239.5" r="2.2" fill="#a9173e" stroke="#2a0108" stroke-width="1.15"/>
<circle cx="67.8" cy="240" r="2.2" fill="#a9173e" stroke="#2a0108" stroke-width="1.15"/>
<circle cx="65.2" cy="242" r="2.2" fill="#a9173e" stroke="#2a0108" stroke-width="1.15"/>
<circle cx="62.8" cy="244" r="2.2" fill="#a9173e" stroke="#2a0108" stroke-width="1.15"/>
<rect x="73.1" y="238.3" width="4.4" height="4.4" fill="#244b6e" stroke="#03080e" stroke-width="1.15"/>
<rect x="75.8" y="237.6" width="4.4" height="4.4" fill="#244b6e" stroke="#03080e" stroke-width="1.15"/>
<rect x="78.3" y="238.3" width="4.4" height="4.4" fill="#244b6e" stroke="#03080e" stroke-width="1.15"/>
<rect x="74.8" y="240.3" width="4.4" height="4.4" fill="#244b6e" stroke="#03080e" stroke-width="1.15"/>
<rect x="79.3" y="240.3" width="4.4" height="4.4" fill="#244b6e" stroke="#03080e" stroke-width="1.15"/>
<rect x="76.8" y="242.1" width="4.4" height="4.4" fill="#244b6e" stroke="#03080e" stroke-width="1.15"/>
<rect x="76.2" y="257.8" width="4.4" height="4.4" fill="#244b6e" stroke="#03080e" stroke-width="1.15"/>
<rect x="87.3" y="239.8" width="4.4" height="4.4" fill="#a9173e" stroke="#2a0108" stroke-width="1.15"/>
<rect x="90.8" y="239.8" width="4.4" height="4.4" fill="#a9173e" stroke="#2a0108" stroke-width="1.15"/>
<rect x="89" y="242.6" width="4.4" height="4.4" fill="#a9173e" stroke="#2a0108" stroke-width="1.15"/>
<rect x="86.3" y="244.3" width="4.4" height="4.4" fill="#a9173e" stroke="#2a0108" stroke-width="1.15"/>
<rect x="91.6" y="244.8" width="4.4" height="4.4" fill="#a9173e" stroke="#2a0108" stroke-width="1.15"/>
<rect x="88.6" y="246.8" width="4.4" height="4.4" fill="#a9173e" stroke="#2a0108" stroke-width="1.15"/>
<rect x="86.4" y="249.3" width="4.4" height="4.4" fill="#a9173e" stroke="#2a0108" stroke-width="1.15"/>
<rect x="91.3" y="248.8" width="4.4" height="4.4" fill="#a9173e" stroke="#2a0108" stroke-width="1.15"/>
<rect x="89" y="251.1" width="4.4" height="4.4" fill="#a9173e" stroke="#2a0108" stroke-width="1.15"/>
<rect x="86.4" y="254.1" width="4.4" height="4.4" fill="#a9173e" stroke="#2a0108" stroke-width="1.15"/>
<rect x="91" y="254.1" width="4.4" height="4.4" fill="#a9173e" stroke="#2a0108" stroke-width="1.15"/>
<rect x="88.6" y="256.5" width="4.4" height="4.4" fill="#a9173e" stroke="#2a0108" stroke-width="1.15"/>
<line x1="48.15" y1="237.2" x2="56.65" y2="237.2" stroke="#111" stroke-width="0.95"/>
<line x1="52.4" y1="233.5" x2="52.4" y2="241" stroke="#111" stroke-width="0.95"/>
<line x1="50.8" y1="233.5" x2="54" y2="233.5" stroke="#111" stroke-width="0.95"/>
<line x1="50.8" y1="241" x2="54" y2="241" stroke="#111" stroke-width="0.95"/>
<line x1="61.05" y1="237.3" x2="69.55" y2="237.3" stroke="#111" stroke-width="0.95"/>
<line x1="65.3" y1="235" x2="65.3" y2="237.3" stroke="#111" stroke-width="0.95"/>
<line x1="63.7" y1="235" x2="66.9" y2="235" stroke="#111" stroke-width="0.95"/>
<line x1="74.15" y1="242.5" x2="82.65" y2="242.5" stroke="#111" stroke-width="0.95"/>
<line x1="78.4" y1="240.2" x2="78.4" y2="242.5" stroke="#111" stroke-width="0.95"/>
<line x1="76.8" y1="240.2" x2="80" y2="240.2" stroke="#111" stroke-width="0.95"/>
<line x1="87.35" y1="249" x2="95.85" y2="249" stroke="#111" stroke-width="0.95"/>
<line x1="91.6" y1="247" x2="91.6" y2="249" stroke="#111" stroke-width="0.95"/>
<line x1="90" y1="247" x2="93.2" y2="247" stroke="#111" stroke-width="0.95"/>
<text x="14.3" y="229.2" font-size="7.3" text-anchor="middle" fill="#111" stroke="#111" stroke-width="0.32" transform="rotate(-90 14.3 229.2)" textLength="40.2" lengthAdjust="spacingAndGlyphs">Cells per femur</text>
<text x="52" y="285.6" font-size="6.4" text-anchor="middle" fill="#1a1a1a" stroke="#1a1a1a" stroke-width="0.18">Ctrl</text>
<text x="65.3" y="285.6" font-size="6.4" text-anchor="middle" fill="#1a1a1a" stroke="#1a1a1a" stroke-width="0.18">Abx</text>
<text x="78.4" y="285.6" font-size="6.4" text-anchor="middle" fill="#1a1a1a" stroke="#1a1a1a" stroke-width="0.18">Ctrl</text>
<text x="91.6" y="285.6" font-size="6.4" text-anchor="middle" fill="#1a1a1a" stroke="#1a1a1a" stroke-width="0.18">Abx</text>
<line x1="52.4" y1="288.6" x2="65.5" y2="288.6" stroke="#555" stroke-width="0.8"/>
<line x1="78.8" y1="288.6" x2="91.8" y2="288.6" stroke="#555" stroke-width="0.8"/>
<text x="58.65" y="295.6" font-size="6.4" text-anchor="middle" fill="#1a1a1a" stroke="#1a1a1a" stroke-width="0.18">SPF</text>
<text x="85" y="295.6" font-size="6.4" text-anchor="middle" fill="#1a1a1a" stroke="#1a1a1a" stroke-width="0.18">GF</text>
<line x1="146.5" y1="189" x2="146.5" y2="274" stroke="#0a0a0a" stroke-width="1"/>
<line x1="143.3" y1="273.5" x2="146.5" y2="273.5" stroke="#0a0a0a" stroke-width="1"/>
<text x="142.1" y="275.62" font-size="5.9" text-anchor="end" fill="#1a1a1a" stroke="#1a1a1a" stroke-width="0.1" transform="translate(142.1 275.62) scale(1.3 1) translate(-142.1 -275.62)">1×10<tspan font-size="3.66" dy="-2.36">3</tspan></text>
<line x1="143.3" y1="253.5" x2="146.5" y2="253.5" stroke="#0a0a0a" stroke-width="1"/>
<text x="142.1" y="255.62" font-size="5.9" text-anchor="end" fill="#1a1a1a" stroke="#1a1a1a" stroke-width="0.1" transform="translate(142.1 255.62) scale(1.3 1) translate(-142.1 -255.62)">1×10<tspan font-size="3.66" dy="-2.36">4</tspan></text>
<line x1="143.3" y1="232.5" x2="146.5" y2="232.5" stroke="#0a0a0a" stroke-width="1"/>
<text x="142.1" y="234.62" font-size="5.9" text-anchor="end" fill="#1a1a1a" stroke="#1a1a1a" stroke-width="0.1" transform="translate(142.1 234.62) scale(1.3 1) translate(-142.1 -234.62)">1×10<tspan font-size="3.66" dy="-2.36">5</tspan></text>
<line x1="143.3" y1="212.5" x2="146.5" y2="212.5" stroke="#0a0a0a" stroke-width="1"/>
<text x="142.1" y="214.62" font-size="5.9" text-anchor="end" fill="#1a1a1a" stroke="#1a1a1a" stroke-width="0.1" transform="translate(142.1 214.62) scale(1.3 1) translate(-142.1 -214.62)">1×10<tspan font-size="3.66" dy="-2.36">6</tspan></text>
<line x1="143.3" y1="191.5" x2="146.5" y2="191.5" stroke="#0a0a0a" stroke-width="1"/>
<text x="142.1" y="193.62" font-size="5.9" text-anchor="end" fill="#1a1a1a" stroke="#1a1a1a" stroke-width="0.1" transform="translate(142.1 193.62) scale(1.3 1) translate(-142.1 -193.62)">1×10<tspan font-size="3.66" dy="-2.36">7</tspan></text>
<line x1="146" y1="273.5" x2="202.5" y2="273.5" stroke="#0a0a0a" stroke-width="1"/>
<line x1="155.5" y1="273.5" x2="155.5" y2="276.5" stroke="#0a0a0a" stroke-width="1"/>
<line x1="168.5" y1="273.5" x2="168.5" y2="276.5" stroke="#0a0a0a" stroke-width="1"/>
<line x1="181.5" y1="273.5" x2="181.5" y2="276.5" stroke="#0a0a0a" stroke-width="1"/>
<line x1="194.5" y1="273.5" x2="194.5" y2="276.5" stroke="#0a0a0a" stroke-width="1"/>
<text x="175.2" y="184.3" font-size="8.3" text-anchor="middle" fill="#111" stroke="#111" stroke-width="0.18">Pro-B</text>
<polyline points="155.1,212.7 155.1,207.8 168.2,207.8 168.2,215.7" fill="none" stroke="#484848" stroke-width="0.95" stroke-linejoin="round"/>
<text x="161.65" y="206.7" font-size="5.6" text-anchor="middle" fill="#111" stroke="#111" stroke-width="0.2">*</text>
<polyline points="181.4,215 181.4,210.9 194.6,210.9 194.6,217.1" fill="none" stroke="#484848" stroke-width="0.95" stroke-linejoin="round"/>
<text x="186.5" y="209.8" font-size="5.6" text-anchor="middle" fill="#111" stroke="#111" stroke-width="0.2">*</text>
<text x="189.5" y="209.8" font-size="5.6" text-anchor="middle" fill="#111" stroke="#111" stroke-width="0.2">*</text>
<circle cx="152" cy="216.8" r="2.2" fill="#244b6e" stroke="#03080e" stroke-width="1.15"/>
<circle cx="150.5" cy="219.5" r="2.2" fill="#244b6e" stroke="#03080e" stroke-width="1.15"/>
<circle cx="154.5" cy="221.5" r="2.2" fill="#244b6e" stroke="#03080e" stroke-width="1.15"/>
<circle cx="157.5" cy="220.5" r="2.2" fill="#244b6e" stroke="#03080e" stroke-width="1.15"/>
<circle cx="152" cy="224" r="2.2" fill="#244b6e" stroke="#03080e" stroke-width="1.15"/>
<circle cx="156.8" cy="225" r="2.2" fill="#244b6e" stroke="#03080e" stroke-width="1.15"/>
<circle cx="152" cy="228.2" r="2.2" fill="#244b6e" stroke="#03080e" stroke-width="1.15"/>
<circle cx="168.2" cy="220.8" r="2.2" fill="#a9173e" stroke="#2a0108" stroke-width="1.15"/>
<circle cx="166" cy="236" r="2.2" fill="#a9173e" stroke="#2a0108" stroke-width="1.15"/>
<circle cx="170" cy="236.5" r="2.2" fill="#a9173e" stroke="#2a0108" stroke-width="1.15"/>
<circle cx="168" cy="239" r="2.2" fill="#a9173e" stroke="#2a0108" stroke-width="1.15"/>
<circle cx="165.5" cy="241" r="2.2" fill="#a9173e" stroke="#2a0108" stroke-width="1.15"/>
<circle cx="169.5" cy="241.8" r="2.2" fill="#a9173e" stroke="#2a0108" stroke-width="1.15"/>
<circle cx="167.2" cy="243.5" r="2.2" fill="#a9173e" stroke="#2a0108" stroke-width="1.15"/>
<circle cx="170.3" cy="245.5" r="2.2" fill="#a9173e" stroke="#2a0108" stroke-width="1.15"/>
<circle cx="166" cy="246.2" r="2.2" fill="#a9173e" stroke="#2a0108" stroke-width="1.15"/>
<rect x="176.1" y="218.8" width="4.4" height="4.4" fill="#244b6e" stroke="#03080e" stroke-width="1.15"/>
<rect x="178.8" y="218.3" width="4.4" height="4.4" fill="#244b6e" stroke="#03080e" stroke-width="1.15"/>
<rect x="181.8" y="219.8" width="4.4" height="4.4" fill="#244b6e" stroke="#03080e" stroke-width="1.15"/>
<rect x="177.8" y="221.3" width="4.4" height="4.4" fill="#244b6e" stroke="#03080e" stroke-width="1.15"/>
<rect x="181.6" y="222.3" width="4.4" height="4.4" fill="#244b6e" stroke="#03080e" stroke-width="1.15"/>
<rect x="179.3" y="224.8" width="4.4" height="4.4" fill="#244b6e" stroke="#03080e" stroke-width="1.15"/>
<rect x="179.2" y="237.8" width="4.4" height="4.4" fill="#244b6e" stroke="#03080e" stroke-width="1.15"/>
<rect x="192.4" y="223.8" width="4.4" height="4.4" fill="#a9173e" stroke="#2a0108" stroke-width="1.15"/>
<rect x="192.4" y="227.6" width="4.4" height="4.4" fill="#a9173e" stroke="#2a0108" stroke-width="1.15"/>
<rect x="191.3" y="230.8" width="4.4" height="4.4" fill="#a9173e" stroke="#2a0108" stroke-width="1.15"/>
<rect x="189.8" y="233.3" width="4.4" height="4.4" fill="#a9173e" stroke="#2a0108" stroke-width="1.15"/>
<rect x="194.3" y="233.3" width="4.4" height="4.4" fill="#a9173e" stroke="#2a0108" stroke-width="1.15"/>
<rect x="192.4" y="236.3" width="4.4" height="4.4" fill="#a9173e" stroke="#2a0108" stroke-width="1.15"/>
<rect x="190.8" y="238.8" width="4.4" height="4.4" fill="#a9173e" stroke="#2a0108" stroke-width="1.15"/>
<rect x="193.6" y="240.8" width="4.4" height="4.4" fill="#a9173e" stroke="#2a0108" stroke-width="1.15"/>
<rect x="190.1" y="243.8" width="4.4" height="4.4" fill="#a9173e" stroke="#2a0108" stroke-width="1.15"/>
<rect x="194.6" y="243.8" width="4.4" height="4.4" fill="#a9173e" stroke="#2a0108" stroke-width="1.15"/>
<rect x="192" y="246.8" width="4.4" height="4.4" fill="#a9173e" stroke="#2a0108" stroke-width="1.15"/>
<rect x="190.8" y="249.8" width="4.4" height="4.4" fill="#a9173e" stroke="#2a0108" stroke-width="1.15"/>
<rect x="194.3" y="249.8" width="4.4" height="4.4" fill="#a9173e" stroke="#2a0108" stroke-width="1.15"/>
<rect x="191.1" y="253.6" width="4.4" height="4.4" fill="#a9173e" stroke="#2a0108" stroke-width="1.15"/>
<line x1="150.85" y1="222" x2="159.35" y2="222" stroke="#111" stroke-width="0.95"/>
<line x1="155.1" y1="219.8" x2="155.1" y2="222" stroke="#111" stroke-width="0.95"/>
<line x1="153.5" y1="219.8" x2="156.7" y2="219.8" stroke="#111" stroke-width="0.95"/>
<line x1="163.95" y1="234.4" x2="172.45" y2="234.4" stroke="#111" stroke-width="0.95"/>
<line x1="168.2" y1="230.3" x2="168.2" y2="234.4" stroke="#111" stroke-width="0.95"/>
<line x1="166.6" y1="230.3" x2="169.8" y2="230.3" stroke="#111" stroke-width="0.95"/>
<line x1="177.15" y1="224" x2="185.65" y2="224" stroke="#111" stroke-width="0.95"/>
<line x1="181.4" y1="222" x2="181.4" y2="224" stroke="#111" stroke-width="0.95"/>
<line x1="179.8" y1="222" x2="183" y2="222" stroke="#111" stroke-width="0.95"/>
<line x1="190.35" y1="239" x2="198.85" y2="239" stroke="#111" stroke-width="0.95"/>
<line x1="194.6" y1="236" x2="194.6" y2="239" stroke="#111" stroke-width="0.95"/>
<line x1="193" y1="236" x2="196.2" y2="236" stroke="#111" stroke-width="0.95"/>
<text x="117.5" y="229.2" font-size="7.3" text-anchor="middle" fill="#111" stroke="#111" stroke-width="0.32" transform="rotate(-90 117.5 229.2)" textLength="40.2" lengthAdjust="spacingAndGlyphs">Cells per femur</text>
<text x="155.1" y="285.6" font-size="6.4" text-anchor="middle" fill="#1a1a1a" stroke="#1a1a1a" stroke-width="0.18">Ctrl</text>
<text x="168.2" y="285.6" font-size="6.4" text-anchor="middle" fill="#1a1a1a" stroke="#1a1a1a" stroke-width="0.18">Abx</text>
<text x="181.4" y="285.6" font-size="6.4" text-anchor="middle" fill="#1a1a1a" stroke="#1a1a1a" stroke-width="0.18">Ctrl</text>
<text x="194.6" y="285.6" font-size="6.4" text-anchor="middle" fill="#1a1a1a" stroke="#1a1a1a" stroke-width="0.18">Abx</text>
<line x1="155.5" y1="288.6" x2="168.4" y2="288.6" stroke="#555" stroke-width="0.8"/>
<line x1="181.8" y1="288.6" x2="194.8" y2="288.6" stroke="#555" stroke-width="0.8"/>
<text x="161.65" y="295.6" font-size="6.4" text-anchor="middle" fill="#1a1a1a" stroke="#1a1a1a" stroke-width="0.18">SPF</text>
<text x="188" y="295.6" font-size="6.4" text-anchor="middle" fill="#1a1a1a" stroke="#1a1a1a" stroke-width="0.18">GF</text>
<line x1="249.5" y1="189" x2="249.5" y2="274" stroke="#0a0a0a" stroke-width="1"/>
<line x1="246.3" y1="273.5" x2="249.5" y2="273.5" stroke="#0a0a0a" stroke-width="1"/>
<text x="245.1" y="275.62" font-size="5.9" text-anchor="end" fill="#1a1a1a" stroke="#1a1a1a" stroke-width="0.1" transform="translate(245.1 275.62) scale(1.3 1) translate(-245.1 -275.62)">1×10<tspan font-size="3.66" dy="-2.36">3</tspan></text>
<line x1="246.3" y1="253.5" x2="249.5" y2="253.5" stroke="#0a0a0a" stroke-width="1"/>
<text x="245.1" y="255.62" font-size="5.9" text-anchor="end" fill="#1a1a1a" stroke="#1a1a1a" stroke-width="0.1" transform="translate(245.1 255.62) scale(1.3 1) translate(-245.1 -255.62)">1×10<tspan font-size="3.66" dy="-2.36">4</tspan></text>
<line x1="246.3" y1="232.5" x2="249.5" y2="232.5" stroke="#0a0a0a" stroke-width="1"/>
<text x="245.1" y="234.62" font-size="5.9" text-anchor="end" fill="#1a1a1a" stroke="#1a1a1a" stroke-width="0.1" transform="translate(245.1 234.62) scale(1.3 1) translate(-245.1 -234.62)">1×10<tspan font-size="3.66" dy="-2.36">5</tspan></text>
<line x1="246.3" y1="212.5" x2="249.5" y2="212.5" stroke="#0a0a0a" stroke-width="1"/>
<text x="245.1" y="214.62" font-size="5.9" text-anchor="end" fill="#1a1a1a" stroke="#1a1a1a" stroke-width="0.1" transform="translate(245.1 214.62) scale(1.3 1) translate(-245.1 -214.62)">1×10<tspan font-size="3.66" dy="-2.36">6</tspan></text>
<line x1="246.3" y1="191.5" x2="249.5" y2="191.5" stroke="#0a0a0a" stroke-width="1"/>
<text x="245.1" y="193.62" font-size="5.9" text-anchor="end" fill="#1a1a1a" stroke="#1a1a1a" stroke-width="0.1" transform="translate(245.1 193.62) scale(1.3 1) translate(-245.1 -193.62)">1×10<tspan font-size="3.66" dy="-2.36">7</tspan></text>
<line x1="249" y1="273.5" x2="305.8" y2="273.5" stroke="#0a0a0a" stroke-width="1"/>
<line x1="257.5" y1="273.5" x2="257.5" y2="276.5" stroke="#0a0a0a" stroke-width="1"/>
<line x1="271.5" y1="273.5" x2="271.5" y2="276.5" stroke="#0a0a0a" stroke-width="1"/>
<line x1="284.5" y1="273.5" x2="284.5" y2="276.5" stroke="#0a0a0a" stroke-width="1"/>
<line x1="298.5" y1="273.5" x2="298.5" y2="276.5" stroke="#0a0a0a" stroke-width="1"/>
<text x="278" y="184.3" font-size="8.3" text-anchor="middle" fill="#111" stroke="#111" stroke-width="0.18">Pre-B</text>
<polyline points="257.8,214.6 257.8,210.2 271.7,210.2 271.7,222" fill="none" stroke="#484848" stroke-width="0.95" stroke-linejoin="round"/>
<text x="261.75" y="209.1" font-size="5.6" text-anchor="middle" fill="#111" stroke="#111" stroke-width="0.2">*</text>
<text x="264.75" y="209.1" font-size="5.6" text-anchor="middle" fill="#111" stroke="#111" stroke-width="0.2">*</text>
<text x="267.75" y="209.1" font-size="5.6" text-anchor="middle" fill="#111" stroke="#111" stroke-width="0.2">*</text>
<polyline points="284.7,223.3 284.7,211.8 298,211.8 298,221.3" fill="none" stroke="#484848" stroke-width="0.95" stroke-linejoin="round"/>
<text x="288.35" y="210.7" font-size="5.6" text-anchor="middle" fill="#111" stroke="#111" stroke-width="0.2">*</text>
<text x="291.35" y="210.7" font-size="5.6" text-anchor="middle" fill="#111" stroke="#111" stroke-width="0.2">*</text>
<text x="294.35" y="210.7" font-size="5.6" text-anchor="middle" fill="#111" stroke="#111" stroke-width="0.2">*</text>
<circle cx="256.5" cy="219.8" r="2.2" fill="#244b6e" stroke="#03080e" stroke-width="1.15"/>
<circle cx="259" cy="220.3" r="2.2" fill="#244b6e" stroke="#03080e" stroke-width="1.15"/>
<circle cx="255" cy="223" r="2.2" fill="#244b6e" stroke="#03080e" stroke-width="1.15"/>
<circle cx="260.5" cy="223.5" r="2.2" fill="#244b6e" stroke="#03080e" stroke-width="1.15"/>
<circle cx="257.8" cy="225.2" r="2.2" fill="#244b6e" stroke="#03080e" stroke-width="1.15"/>
<circle cx="254.5" cy="227.2" r="2.2" fill="#244b6e" stroke="#03080e" stroke-width="1.15"/>
<circle cx="259.8" cy="228" r="2.2" fill="#244b6e" stroke="#03080e" stroke-width="1.15"/>
<circle cx="257" cy="229.2" r="2.2" fill="#244b6e" stroke="#03080e" stroke-width="1.15"/>
<circle cx="269" cy="228" r="2.2" fill="#a9173e" stroke="#2a0108" stroke-width="1.15"/>
<circle cx="272.8" cy="229.5" r="2.2" fill="#a9173e" stroke="#2a0108" stroke-width="1.15"/>
<circle cx="268.6" cy="231.3" r="2.2" fill="#a9173e" stroke="#2a0108" stroke-width="1.15"/>
<circle cx="274.6" cy="231" r="2.2" fill="#a9173e" stroke="#2a0108" stroke-width="1.15"/>
<circle cx="271.2" cy="233" r="2.2" fill="#a9173e" stroke="#2a0108" stroke-width="1.15"/>
<circle cx="270.6" cy="240.6" r="2.2" fill="#a9173e" stroke="#2a0108" stroke-width="1.15"/>
<circle cx="271.3" cy="244.8" r="2.2" fill="#a9173e" stroke="#2a0108" stroke-width="1.15"/>
<rect x="280.8" y="223.6" width="4.4" height="4.4" fill="#244b6e" stroke="#03080e" stroke-width="1.15"/>
<rect x="285.3" y="222.6" width="4.4" height="4.4" fill="#244b6e" stroke="#03080e" stroke-width="1.15"/>
<rect x="282.5" y="225.8" width="4.4" height="4.4" fill="#244b6e" stroke="#03080e" stroke-width="1.15"/>
<rect x="280.3" y="227.8" width="4.4" height="4.4" fill="#244b6e" stroke="#03080e" stroke-width="1.15"/>
<rect x="284.8" y="228.8" width="4.4" height="4.4" fill="#244b6e" stroke="#03080e" stroke-width="1.15"/>
<rect x="281.8" y="231.3" width="4.4" height="4.4" fill="#244b6e" stroke="#03080e" stroke-width="1.15"/>
<rect x="284.3" y="233.8" width="4.4" height="4.4" fill="#244b6e" stroke="#03080e" stroke-width="1.15"/>
<rect x="281.3" y="233.8" width="4.4" height="4.4" fill="#244b6e" stroke="#03080e" stroke-width="1.15"/>
<rect x="294.8" y="225.6" width="4.4" height="4.4" fill="#a9173e" stroke="#2a0108" stroke-width="1.15"/>
<rect x="293.1" y="228" width="4.4" height="4.4" fill="#a9173e" stroke="#2a0108" stroke-width="1.15"/>
<rect x="298.3" y="227.8" width="4.4" height="4.4" fill="#a9173e" stroke="#2a0108" stroke-width="1.15"/>
<rect x="295.6" y="230.1" width="4.4" height="4.4" fill="#a9173e" stroke="#2a0108" stroke-width="1.15"/>
<rect x="292.8" y="231.8" width="4.4" height="4.4" fill="#a9173e" stroke="#2a0108" stroke-width="1.15"/>
<rect x="298" y="232.3" width="4.4" height="4.4" fill="#a9173e" stroke="#2a0108" stroke-width="1.15"/>
<rect x="295.3" y="234.3" width="4.4" height="4.4" fill="#a9173e" stroke="#2a0108" stroke-width="1.15"/>
<rect x="295.8" y="237.8" width="4.4" height="4.4" fill="#a9173e" stroke="#2a0108" stroke-width="1.15"/>
<rect x="294.3" y="240.8" width="4.4" height="4.4" fill="#a9173e" stroke="#2a0108" stroke-width="1.15"/>
<rect x="295.8" y="246.1" width="4.4" height="4.4" fill="#a9173e" stroke="#2a0108" stroke-width="1.15"/>
<rect x="295.8" y="257.2" width="4.4" height="4.4" fill="#a9173e" stroke="#2a0108" stroke-width="1.15"/>
<rect x="295.8" y="265.9" width="4.4" height="4.4" fill="#a9173e" stroke="#2a0108" stroke-width="1.15"/>
<line x1="253.55" y1="223.8" x2="262.05" y2="223.8" stroke="#111" stroke-width="0.95"/>
<line x1="257.8" y1="221.5" x2="257.8" y2="223.8" stroke="#111" stroke-width="0.95"/>
<line x1="256.2" y1="221.5" x2="259.4" y2="221.5" stroke="#111" stroke-width="0.95"/>
<line x1="267.45" y1="233.6" x2="275.95" y2="233.6" stroke="#111" stroke-width="0.95"/>
<line x1="271.7" y1="231" x2="271.7" y2="233.6" stroke="#111" stroke-width="0.95"/>
<line x1="270.1" y1="231" x2="273.3" y2="231" stroke="#111" stroke-width="0.95"/>
<line x1="280.45" y1="230" x2="288.95" y2="230" stroke="#111" stroke-width="0.95"/>
<line x1="284.7" y1="227.8" x2="284.7" y2="230" stroke="#111" stroke-width="0.95"/>
<line x1="283.1" y1="227.8" x2="286.3" y2="227.8" stroke="#111" stroke-width="0.95"/>
<line x1="293.75" y1="234.5" x2="302.25" y2="234.5" stroke="#111" stroke-width="0.95"/>
<line x1="298" y1="232" x2="298" y2="234.5" stroke="#111" stroke-width="0.95"/>
<line x1="296.4" y1="232" x2="299.6" y2="232" stroke="#111" stroke-width="0.95"/>
<text x="220.5" y="229.2" font-size="7.3" text-anchor="middle" fill="#111" stroke="#111" stroke-width="0.32" transform="rotate(-90 220.5 229.2)" textLength="40.2" lengthAdjust="spacingAndGlyphs">Cells per femur</text>
<text x="257.8" y="285.6" font-size="6.4" text-anchor="middle" fill="#1a1a1a" stroke="#1a1a1a" stroke-width="0.18">Ctrl</text>
<text x="271.7" y="285.6" font-size="6.4" text-anchor="middle" fill="#1a1a1a" stroke="#1a1a1a" stroke-width="0.18">Abx</text>
<text x="284.7" y="285.6" font-size="6.4" text-anchor="middle" fill="#1a1a1a" stroke="#1a1a1a" stroke-width="0.18">Ctrl</text>
<text x="298" y="285.6" font-size="6.4" text-anchor="middle" fill="#1a1a1a" stroke="#1a1a1a" stroke-width="0.18">Abx</text>
<line x1="258.2" y1="288.6" x2="271.9" y2="288.6" stroke="#555" stroke-width="0.8"/>
<line x1="285.1" y1="288.6" x2="298.2" y2="288.6" stroke="#555" stroke-width="0.8"/>
<text x="264.75" y="295.6" font-size="6.4" text-anchor="middle" fill="#1a1a1a" stroke="#1a1a1a" stroke-width="0.18">SPF</text>
<text x="291.35" y="295.6" font-size="6.4" text-anchor="middle" fill="#1a1a1a" stroke="#1a1a1a" stroke-width="0.18">GF</text>
<line x1="352.5" y1="189" x2="352.5" y2="274" stroke="#0a0a0a" stroke-width="1"/>
<line x1="349.3" y1="273.5" x2="352.5" y2="273.5" stroke="#0a0a0a" stroke-width="1"/>
<text x="348.1" y="275.62" font-size="5.9" text-anchor="end" fill="#1a1a1a" stroke="#1a1a1a" stroke-width="0.1" transform="translate(348.1 275.62) scale(1.3 1) translate(-348.1 -275.62)">1×10<tspan font-size="3.66" dy="-2.36">2</tspan></text>
<line x1="349.3" y1="253.5" x2="352.5" y2="253.5" stroke="#0a0a0a" stroke-width="1"/>
<text x="348.1" y="255.62" font-size="5.9" text-anchor="end" fill="#1a1a1a" stroke="#1a1a1a" stroke-width="0.1" transform="translate(348.1 255.62) scale(1.3 1) translate(-348.1 -255.62)">1×10<tspan font-size="3.66" dy="-2.36">3</tspan></text>
<line x1="349.3" y1="232.5" x2="352.5" y2="232.5" stroke="#0a0a0a" stroke-width="1"/>
<text x="348.1" y="234.62" font-size="5.9" text-anchor="end" fill="#1a1a1a" stroke="#1a1a1a" stroke-width="0.1" transform="translate(348.1 234.62) scale(1.3 1) translate(-348.1 -234.62)">1×10<tspan font-size="3.66" dy="-2.36">4</tspan></text>
<line x1="349.3" y1="212.5" x2="352.5" y2="212.5" stroke="#0a0a0a" stroke-width="1"/>
<text x="348.1" y="214.62" font-size="5.9" text-anchor="end" fill="#1a1a1a" stroke="#1a1a1a" stroke-width="0.1" transform="translate(348.1 214.62) scale(1.3 1) translate(-348.1 -214.62)">1×10<tspan font-size="3.66" dy="-2.36">5</tspan></text>
<line x1="349.3" y1="191.5" x2="352.5" y2="191.5" stroke="#0a0a0a" stroke-width="1"/>
<text x="348.1" y="193.62" font-size="5.9" text-anchor="end" fill="#1a1a1a" stroke="#1a1a1a" stroke-width="0.1" transform="translate(348.1 193.62) scale(1.3 1) translate(-348.1 -193.62)">1×10<tspan font-size="3.66" dy="-2.36">6</tspan></text>
<line x1="352" y1="273.5" x2="408" y2="273.5" stroke="#0a0a0a" stroke-width="1"/>
<line x1="361.5" y1="273.5" x2="361.5" y2="276.5" stroke="#0a0a0a" stroke-width="1"/>
<line x1="374.5" y1="273.5" x2="374.5" y2="276.5" stroke="#0a0a0a" stroke-width="1"/>
<line x1="387.5" y1="273.5" x2="387.5" y2="276.5" stroke="#0a0a0a" stroke-width="1"/>
<line x1="400.5" y1="273.5" x2="400.5" y2="276.5" stroke="#0a0a0a" stroke-width="1"/>
<text x="380.9" y="184.3" font-size="8.3" text-anchor="middle" fill="#111" stroke="#111" stroke-width="0.18">Immature B</text>
<polyline points="361.1,203.5 361.1,199.1 374.7,199.1 374.7,211.6" fill="none" stroke="#484848" stroke-width="0.95" stroke-linejoin="round"/>
<text x="364.9" y="198" font-size="5.6" text-anchor="middle" fill="#111" stroke="#111" stroke-width="0.2">*</text>
<text x="367.9" y="198" font-size="5.6" text-anchor="middle" fill="#111" stroke="#111" stroke-width="0.2">*</text>
<text x="370.9" y="198" font-size="5.6" text-anchor="middle" fill="#111" stroke="#111" stroke-width="0.2">*</text>
<polyline points="387.7,203.2 387.7,198.4 401,198.4 401,214.3" fill="none" stroke="#484848" stroke-width="0.95" stroke-linejoin="round"/>
<text x="391.35" y="197.3" font-size="5.6" text-anchor="middle" fill="#111" stroke="#111" stroke-width="0.2">*</text>
<text x="394.35" y="197.3" font-size="5.6" text-anchor="middle" fill="#111" stroke="#111" stroke-width="0.2">*</text>
<text x="397.35" y="197.3" font-size="5.6" text-anchor="middle" fill="#111" stroke="#111" stroke-width="0.2">*</text>
<circle cx="359" cy="208.3" r="2.2" fill="#244b6e" stroke="#03080e" stroke-width="1.15"/>
<circle cx="363.5" cy="208.6" r="2.2" fill="#244b6e" stroke="#03080e" stroke-width="1.15"/>
<circle cx="357.5" cy="211.8" r="2.2" fill="#244b6e" stroke="#03080e" stroke-width="1.15"/>
<circle cx="361.1" cy="212.5" r="2.2" fill="#244b6e" stroke="#03080e" stroke-width="1.15"/>
<circle cx="365" cy="212.2" r="2.2" fill="#244b6e" stroke="#03080e" stroke-width="1.15"/>
<circle cx="358.5" cy="216.5" r="2.2" fill="#244b6e" stroke="#03080e" stroke-width="1.15"/>
<circle cx="363.5" cy="216.8" r="2.2" fill="#244b6e" stroke="#03080e" stroke-width="1.15"/>
<circle cx="374.7" cy="216.7" r="2.2" fill="#a9173e" stroke="#2a0108" stroke-width="1.15"/>
<circle cx="375.5" cy="229" r="2.2" fill="#a9173e" stroke="#2a0108" stroke-width="1.15"/>
<circle cx="372.5" cy="230.3" r="2.2" fill="#a9173e" stroke="#2a0108" stroke-width="1.15"/>
<circle cx="376.8" cy="231" r="2.2" fill="#a9173e" stroke="#2a0108" stroke-width="1.15"/>
<circle cx="374" cy="232.8" r="2.2" fill="#a9173e" stroke="#2a0108" stroke-width="1.15"/>
<circle cx="377.8" cy="233" r="2.2" fill="#a9173e" stroke="#2a0108" stroke-width="1.15"/>
<circle cx="372" cy="235.5" r="2.2" fill="#a9173e" stroke="#2a0108" stroke-width="1.15"/>
<circle cx="376" cy="235.5" r="2.2" fill="#a9173e" stroke="#2a0108" stroke-width="1.15"/>
<circle cx="373.8" cy="237.5" r="2.2" fill="#a9173e" stroke="#2a0108" stroke-width="1.15"/>
<rect x="388.3" y="206.5" width="4.4" height="4.4" fill="#244b6e" stroke="#03080e" stroke-width="1.15"/>
<rect x="383.8" y="208" width="4.4" height="4.4" fill="#244b6e" stroke="#03080e" stroke-width="1.15"/>
<rect x="387.3" y="210.1" width="4.4" height="4.4" fill="#244b6e" stroke="#03080e" stroke-width="1.15"/>
<rect x="382.3" y="212.1" width="4.4" height="4.4" fill="#244b6e" stroke="#03080e" stroke-width="1.15"/>
<rect x="385.8" y="213.3" width="4.4" height="4.4" fill="#244b6e" stroke="#03080e" stroke-width="1.15"/>
<rect x="389.1" y="213.6" width="4.4" height="4.4" fill="#244b6e" stroke="#03080e" stroke-width="1.15"/>
<rect x="383.8" y="216" width="4.4" height="4.4" fill="#244b6e" stroke="#03080e" stroke-width="1.15"/>
<rect x="388" y="217.6" width="4.4" height="4.4" fill="#244b6e" stroke="#03080e" stroke-width="1.15"/>
<rect x="382.8" y="219" width="4.4" height="4.4" fill="#244b6e" stroke="#03080e" stroke-width="1.15"/>
<rect x="396.3" y="219.3" width="4.4" height="4.4" fill="#a9173e" stroke="#2a0108" stroke-width="1.15"/>
<rect x="400.8" y="219.3" width="4.4" height="4.4" fill="#a9173e" stroke="#2a0108" stroke-width="1.15"/>
<rect x="398.8" y="222.3" width="4.4" height="4.4" fill="#a9173e" stroke="#2a0108" stroke-width="1.15"/>
<rect x="395.8" y="224" width="4.4" height="4.4" fill="#a9173e" stroke="#2a0108" stroke-width="1.15"/>
<rect x="401.3" y="224.3" width="4.4" height="4.4" fill="#a9173e" stroke="#2a0108" stroke-width="1.15"/>
<rect x="398.3" y="226.3" width="4.4" height="4.4" fill="#a9173e" stroke="#2a0108" stroke-width="1.15"/>
<rect x="395.6" y="228.3" width="4.4" height="4.4" fill="#a9173e" stroke="#2a0108" stroke-width="1.15"/>
<rect x="401" y="228.6" width="4.4" height="4.4" fill="#a9173e" stroke="#2a0108" stroke-width="1.15"/>
<rect x="398.6" y="230.8" width="4.4" height="4.4" fill="#a9173e" stroke="#2a0108" stroke-width="1.15"/>
<rect x="395.8" y="232.8" width="4.4" height="4.4" fill="#a9173e" stroke="#2a0108" stroke-width="1.15"/>
<rect x="401.3" y="233.8" width="4.4" height="4.4" fill="#a9173e" stroke="#2a0108" stroke-width="1.15"/>
<rect x="398.3" y="236.3" width="4.4" height="4.4" fill="#a9173e" stroke="#2a0108" stroke-width="1.15"/>
<rect x="398.8" y="239.8" width="4.4" height="4.4" fill="#a9173e" stroke="#2a0108" stroke-width="1.15"/>
<rect x="398.8" y="250.9" width="4.4" height="4.4" fill="#a9173e" stroke="#2a0108" stroke-width="1.15"/>
<line x1="356.85" y1="212.5" x2="365.35" y2="212.5" stroke="#111" stroke-width="0.95"/>
<line x1="361.1" y1="210" x2="361.1" y2="212.5" stroke="#111" stroke-width="0.95"/>
<line x1="359.5" y1="210" x2="362.7" y2="210" stroke="#111" stroke-width="0.95"/>
<line x1="370.45" y1="228.9" x2="378.95" y2="228.9" stroke="#111" stroke-width="0.95"/>
<line x1="374.7" y1="225.4" x2="374.7" y2="228.9" stroke="#111" stroke-width="0.95"/>
<line x1="373.1" y1="225.4" x2="376.3" y2="225.4" stroke="#111" stroke-width="0.95"/>
<line x1="383.45" y1="215" x2="391.95" y2="215" stroke="#111" stroke-width="0.95"/>
<line x1="387.7" y1="212.5" x2="387.7" y2="215" stroke="#111" stroke-width="0.95"/>
<line x1="386.1" y1="212.5" x2="389.3" y2="212.5" stroke="#111" stroke-width="0.95"/>
<line x1="396.75" y1="231" x2="405.25" y2="231" stroke="#111" stroke-width="0.95"/>
<line x1="401" y1="228" x2="401" y2="231" stroke="#111" stroke-width="0.95"/>
<line x1="399.4" y1="228" x2="402.6" y2="228" stroke="#111" stroke-width="0.95"/>
<text x="323" y="229.2" font-size="7.3" text-anchor="middle" fill="#111" stroke="#111" stroke-width="0.32" transform="rotate(-90 323 229.2)" textLength="40.2" lengthAdjust="spacingAndGlyphs">Cells per femur</text>
<text x="361.1" y="285.6" font-size="6.4" text-anchor="middle" fill="#1a1a1a" stroke="#1a1a1a" stroke-width="0.18">Ctrl</text>
<text x="374.7" y="285.6" font-size="6.4" text-anchor="middle" fill="#1a1a1a" stroke="#1a1a1a" stroke-width="0.18">Abx</text>
<text x="387.7" y="285.6" font-size="6.4" text-anchor="middle" fill="#1a1a1a" stroke="#1a1a1a" stroke-width="0.18">Ctrl</text>
<text x="401" y="285.6" font-size="6.4" text-anchor="middle" fill="#1a1a1a" stroke="#1a1a1a" stroke-width="0.18">Abx</text>
<line x1="361.5" y1="288.6" x2="374.9" y2="288.6" stroke="#555" stroke-width="0.8"/>
<line x1="388.1" y1="288.6" x2="401.2" y2="288.6" stroke="#555" stroke-width="0.8"/>
<text x="367.9" y="295.6" font-size="6.4" text-anchor="middle" fill="#1a1a1a" stroke="#1a1a1a" stroke-width="0.18">SPF</text>
<text x="394.35" y="295.6" font-size="6.4" text-anchor="middle" fill="#1a1a1a" stroke="#1a1a1a" stroke-width="0.18">GF</text>
<line x1="455.5" y1="189" x2="455.5" y2="274" stroke="#0a0a0a" stroke-width="1"/>
<line x1="452.3" y1="273.5" x2="455.5" y2="273.5" stroke="#0a0a0a" stroke-width="1"/>
<text x="451.1" y="275.62" font-size="5.9" text-anchor="end" fill="#1a1a1a" stroke="#1a1a1a" stroke-width="0.1" transform="translate(451.1 275.62) scale(1.3 1) translate(-451.1 -275.62)">1×10<tspan font-size="3.66" dy="-2.36">3</tspan></text>
<line x1="452.3" y1="246.5" x2="455.5" y2="246.5" stroke="#0a0a0a" stroke-width="1"/>
<text x="451.1" y="248.62" font-size="5.9" text-anchor="end" fill="#1a1a1a" stroke="#1a1a1a" stroke-width="0.1" transform="translate(451.1 248.62) scale(1.3 1) translate(-451.1 -248.62)">1×10<tspan font-size="3.66" dy="-2.36">4</tspan></text>
<line x1="452.3" y1="219.5" x2="455.5" y2="219.5" stroke="#0a0a0a" stroke-width="1"/>
<text x="451.1" y="221.62" font-size="5.9" text-anchor="end" fill="#1a1a1a" stroke="#1a1a1a" stroke-width="0.1" transform="translate(451.1 221.62) scale(1.3 1) translate(-451.1 -221.62)">1×10<tspan font-size="3.66" dy="-2.36">5</tspan></text>
<line x1="452.3" y1="191.5" x2="455.5" y2="191.5" stroke="#0a0a0a" stroke-width="1"/>
<text x="451.1" y="193.62" font-size="5.9" text-anchor="end" fill="#1a1a1a" stroke="#1a1a1a" stroke-width="0.1" transform="translate(451.1 193.62) scale(1.3 1) translate(-451.1 -193.62)">1×10<tspan font-size="3.66" dy="-2.36">6</tspan></text>
<line x1="455" y1="273.5" x2="513.2" y2="273.5" stroke="#0a0a0a" stroke-width="1"/>
<line x1="464.5" y1="273.5" x2="464.5" y2="276.5" stroke="#0a0a0a" stroke-width="1"/>
<line x1="477.5" y1="273.5" x2="477.5" y2="276.5" stroke="#0a0a0a" stroke-width="1"/>
<line x1="491.5" y1="273.5" x2="491.5" y2="276.5" stroke="#0a0a0a" stroke-width="1"/>
<line x1="504.5" y1="273.5" x2="504.5" y2="276.5" stroke="#0a0a0a" stroke-width="1"/>
<text x="484.6" y="184.3" font-size="8.3" text-anchor="middle" fill="#111" stroke="#111" stroke-width="0.18">Mature B</text>
<polyline points="464.4,207.4 464.4,202.3 477.7,202.3 477.7,207.8" fill="none" stroke="#484848" stroke-width="0.95" stroke-linejoin="round"/>
<polyline points="491.1,203.2 491.1,196 504.5,196 504.5,207.8" fill="none" stroke="#484848" stroke-width="0.95" stroke-linejoin="round"/>
<text x="497.8" y="194.9" font-size="5.6" text-anchor="middle" fill="#111" stroke="#111" stroke-width="0.2">*</text>
<circle cx="461.3" cy="214.8" r="2.2" fill="#244b6e" stroke="#03080e" stroke-width="1.15"/>
<circle cx="464.6" cy="214.2" r="2.2" fill="#244b6e" stroke="#03080e" stroke-width="1.15"/>
<circle cx="467.5" cy="215.2" r="2.2" fill="#244b6e" stroke="#03080e" stroke-width="1.15"/>
<circle cx="462" cy="217.5" r="2.2" fill="#244b6e" stroke="#03080e" stroke-width="1.15"/>
<circle cx="466" cy="217.8" r="2.2" fill="#244b6e" stroke="#03080e" stroke-width="1.15"/>
<circle cx="464" cy="219.8" r="2.2" fill="#244b6e" stroke="#03080e" stroke-width="1.15"/>
<circle cx="467.6" cy="220.3" r="2.2" fill="#244b6e" stroke="#03080e" stroke-width="1.15"/>
<circle cx="464.4" cy="229.3" r="2.2" fill="#244b6e" stroke="#03080e" stroke-width="1.15"/>
<circle cx="477.7" cy="214" r="2.2" fill="#a9173e" stroke="#2a0108" stroke-width="1.15"/>
<circle cx="480.5" cy="223.5" r="2.2" fill="#a9173e" stroke="#2a0108" stroke-width="1.15"/>
<circle cx="477.5" cy="225.5" r="2.2" fill="#a9173e" stroke="#2a0108" stroke-width="1.15"/>
<circle cx="475.8" cy="227.3" r="2.2" fill="#a9173e" stroke="#2a0108" stroke-width="1.15"/>
<circle cx="480" cy="229" r="2.2" fill="#a9173e" stroke="#2a0108" stroke-width="1.15"/>
<circle cx="478.3" cy="231.5" r="2.2" fill="#a9173e" stroke="#2a0108" stroke-width="1.15"/>
<circle cx="476.5" cy="233.8" r="2.2" fill="#a9173e" stroke="#2a0108" stroke-width="1.15"/>
<circle cx="480.5" cy="237" r="2.2" fill="#a9173e" stroke="#2a0108" stroke-width="1.15"/>
<circle cx="476.3" cy="239.8" r="2.2" fill="#a9173e" stroke="#2a0108" stroke-width="1.15"/>
<rect x="487.5" y="208.7" width="4.4" height="4.4" fill="#244b6e" stroke="#03080e" stroke-width="1.15"/>
<rect x="490.3" y="212.1" width="4.4" height="4.4" fill="#244b6e" stroke="#03080e" stroke-width="1.15"/>
<rect x="486.3" y="218.8" width="4.4" height="4.4" fill="#244b6e" stroke="#03080e" stroke-width="1.15"/>
<rect x="489.6" y="220.3" width="4.4" height="4.4" fill="#244b6e" stroke="#03080e" stroke-width="1.15"/>
<rect x="487.3" y="221.8" width="4.4" height="4.4" fill="#244b6e" stroke="#03080e" stroke-width="1.15"/>
<rect x="491.8" y="222.3" width="4.4" height="4.4" fill="#244b6e" stroke="#03080e" stroke-width="1.15"/>
<rect x="486" y="224.3" width="4.4" height="4.4" fill="#244b6e" stroke="#03080e" stroke-width="1.15"/>
<rect x="489.3" y="224.8" width="4.4" height="4.4" fill="#244b6e" stroke="#03080e" stroke-width="1.15"/>
<rect x="491.8" y="225.8" width="4.4" height="4.4" fill="#244b6e" stroke="#03080e" stroke-width="1.15"/>
<rect x="502.3" y="213.5" width="4.4" height="4.4" fill="#a9173e" stroke="#2a0108" stroke-width="1.15"/>
<rect x="499.8" y="220.8" width="4.4" height="4.4" fill="#a9173e" stroke="#2a0108" stroke-width="1.15"/>
<rect x="504.3" y="222.3" width="4.4" height="4.4" fill="#a9173e" stroke="#2a0108" stroke-width="1.15"/>
<rect x="501.8" y="224.3" width="4.4" height="4.4" fill="#a9173e" stroke="#2a0108" stroke-width="1.15"/>
<rect x="499.3" y="226.3" width="4.4" height="4.4" fill="#a9173e" stroke="#2a0108" stroke-width="1.15"/>
<rect x="503.8" y="227.8" width="4.4" height="4.4" fill="#a9173e" stroke="#2a0108" stroke-width="1.15"/>
<rect x="501.3" y="229.8" width="4.4" height="4.4" fill="#a9173e" stroke="#2a0108" stroke-width="1.15"/>
<rect x="498.8" y="231.8" width="4.4" height="4.4" fill="#a9173e" stroke="#2a0108" stroke-width="1.15"/>
<rect x="503.8" y="233.8" width="4.4" height="4.4" fill="#a9173e" stroke="#2a0108" stroke-width="1.15"/>
<rect x="501.3" y="235.8" width="4.4" height="4.4" fill="#a9173e" stroke="#2a0108" stroke-width="1.15"/>
<rect x="501.8" y="239.3" width="4.4" height="4.4" fill="#a9173e" stroke="#2a0108" stroke-width="1.15"/>
<rect x="501.8" y="243.3" width="4.4" height="4.4" fill="#a9173e" stroke="#2a0108" stroke-width="1.15"/>
<rect x="501.8" y="247.3" width="4.4" height="4.4" fill="#a9173e" stroke="#2a0108" stroke-width="1.15"/>
<line x1="460.15" y1="216.5" x2="468.65" y2="216.5" stroke="#111" stroke-width="0.95"/>
<line x1="464.4" y1="215" x2="464.4" y2="216.5" stroke="#111" stroke-width="0.95"/>
<line x1="462.8" y1="215" x2="466" y2="215" stroke="#111" stroke-width="0.95"/>
<line x1="473.45" y1="228.5" x2="481.95" y2="228.5" stroke="#111" stroke-width="0.95"/>
<line x1="477.7" y1="226" x2="477.7" y2="228.5" stroke="#111" stroke-width="0.95"/>
<line x1="476.1" y1="226" x2="479.3" y2="226" stroke="#111" stroke-width="0.95"/>
<line x1="486.85" y1="220.6" x2="495.35" y2="220.6" stroke="#111" stroke-width="0.95"/>
<line x1="491.1" y1="218.5" x2="491.1" y2="220.6" stroke="#111" stroke-width="0.95"/>
<line x1="489.5" y1="218.5" x2="492.7" y2="218.5" stroke="#111" stroke-width="0.95"/>
<line x1="500.25" y1="232" x2="508.75" y2="232" stroke="#111" stroke-width="0.95"/>
<line x1="504.5" y1="229.5" x2="504.5" y2="232" stroke="#111" stroke-width="0.95"/>
<line x1="502.9" y1="229.5" x2="506.1" y2="229.5" stroke="#111" stroke-width="0.95"/>
<text x="426" y="229.2" font-size="7.3" text-anchor="middle" fill="#111" stroke="#111" stroke-width="0.32" transform="rotate(-90 426 229.2)" textLength="40.2" lengthAdjust="spacingAndGlyphs">Cells per femur</text>
<text x="464.4" y="285.6" font-size="6.4" text-anchor="middle" fill="#1a1a1a" stroke="#1a1a1a" stroke-width="0.18">Ctrl</text>
<text x="477.7" y="285.6" font-size="6.4" text-anchor="middle" fill="#1a1a1a" stroke="#1a1a1a" stroke-width="0.18">Abx</text>
<text x="491.1" y="285.6" font-size="6.4" text-anchor="middle" fill="#1a1a1a" stroke="#1a1a1a" stroke-width="0.18">Ctrl</text>
<text x="504.5" y="285.6" font-size="6.4" text-anchor="middle" fill="#1a1a1a" stroke="#1a1a1a" stroke-width="0.18">Abx</text>
<line x1="464.8" y1="288.6" x2="477.9" y2="288.6" stroke="#555" stroke-width="0.8"/>
<line x1="491.5" y1="288.6" x2="504.7" y2="288.6" stroke="#555" stroke-width="0.8"/>
<text x="471.05" y="295.6" font-size="6.4" text-anchor="middle" fill="#1a1a1a" stroke="#1a1a1a" stroke-width="0.18">SPF</text>
<text x="497.8" y="295.6" font-size="6.4" text-anchor="middle" fill="#1a1a1a" stroke="#1a1a1a" stroke-width="0.18">GF</text>
<text x="471.3" y="199.6" font-size="6.5" text-anchor="middle" fill="#222" stroke="#222" stroke-width="0.1">P = .059</text>
<line x1="43.5" y1="341" x2="43.5" y2="427" stroke="#0a0a0a" stroke-width="1"/>
<line x1="40.3" y1="416.5" x2="43.5" y2="416.5" stroke="#0a0a0a" stroke-width="1"/>
<text x="37.3" y="418.66" font-size="6" text-anchor="end" fill="#1a1a1a" stroke="#1a1a1a" stroke-width="0.1" transform="translate(37.3 418.66) scale(1.18 1) translate(-37.3 -418.66)">6</text>
<line x1="40.3" y1="392.5" x2="43.5" y2="392.5" stroke="#0a0a0a" stroke-width="1"/>
<text x="37.3" y="394.66" font-size="6" text-anchor="end" fill="#1a1a1a" stroke="#1a1a1a" stroke-width="0.1" transform="translate(37.3 394.66) scale(1.18 1) translate(-37.3 -394.66)">8</text>
<line x1="40.3" y1="367.5" x2="43.5" y2="367.5" stroke="#0a0a0a" stroke-width="1"/>
<text x="37.3" y="369.66" font-size="6" text-anchor="end" fill="#1a1a1a" stroke="#1a1a1a" stroke-width="0.1" transform="translate(37.3 369.66) scale(1.18 1) translate(-37.3 -369.66)">10</text>
<line x1="40.3" y1="343.5" x2="43.5" y2="343.5" stroke="#0a0a0a" stroke-width="1"/>
<text x="37.3" y="345.66" font-size="6" text-anchor="end" fill="#1a1a1a" stroke="#1a1a1a" stroke-width="0.1" transform="translate(37.3 345.66) scale(1.18 1) translate(-37.3 -345.66)">12</text>
<line x1="43.15" y1="426.2" x2="170.8" y2="426.2" stroke="#0a0a0a" stroke-width="0.9"/>
<line x1="43.6" y1="426.2" x2="43.6" y2="429.2" stroke="#0a0a0a" stroke-width="0.9"/>
<line x1="49.45" y1="426.2" x2="49.45" y2="427.8" stroke="#0a0a0a" stroke-width="0.8"/>
<line x1="55.29" y1="426.2" x2="55.29" y2="427.8" stroke="#0a0a0a" stroke-width="0.8"/>
<line x1="61.14" y1="426.2" x2="61.14" y2="427.8" stroke="#0a0a0a" stroke-width="0.8"/>
<line x1="66.98" y1="426.2" x2="66.98" y2="427.8" stroke="#0a0a0a" stroke-width="0.8"/>
<line x1="72.83" y1="426.2" x2="72.83" y2="427.8" stroke="#0a0a0a" stroke-width="0.8"/>
<line x1="78.67" y1="426.2" x2="78.67" y2="427.8" stroke="#0a0a0a" stroke-width="0.8"/>
<line x1="84.52" y1="426.2" x2="84.52" y2="427.8" stroke="#0a0a0a" stroke-width="0.8"/>
<line x1="90.36" y1="426.2" x2="90.36" y2="427.8" stroke="#0a0a0a" stroke-width="0.8"/>
<line x1="96.2" y1="426.2" x2="96.2" y2="427.8" stroke="#0a0a0a" stroke-width="0.8"/>
<line x1="102.05" y1="426.2" x2="102.05" y2="429.2" stroke="#0a0a0a" stroke-width="0.9"/>
<line x1="107.9" y1="426.2" x2="107.9" y2="427.8" stroke="#0a0a0a" stroke-width="0.8"/>
<line x1="113.74" y1="426.2" x2="113.74" y2="427.8" stroke="#0a0a0a" stroke-width="0.8"/>
<line x1="119.59" y1="426.2" x2="119.59" y2="427.8" stroke="#0a0a0a" stroke-width="0.8"/>
<line x1="125.43" y1="426.2" x2="125.43" y2="427.8" stroke="#0a0a0a" stroke-width="0.8"/>
<line x1="131.28" y1="426.2" x2="131.28" y2="427.8" stroke="#0a0a0a" stroke-width="0.8"/>
<line x1="137.12" y1="426.2" x2="137.12" y2="427.8" stroke="#0a0a0a" stroke-width="0.8"/>
<line x1="142.97" y1="426.2" x2="142.97" y2="427.8" stroke="#0a0a0a" stroke-width="0.8"/>
<line x1="148.81" y1="426.2" x2="148.81" y2="427.8" stroke="#0a0a0a" stroke-width="0.8"/>
<line x1="154.66" y1="426.2" x2="154.66" y2="427.8" stroke="#0a0a0a" stroke-width="0.8"/>
<line x1="160.5" y1="426.2" x2="160.5" y2="429.2" stroke="#0a0a0a" stroke-width="0.9"/>
<line x1="166.34" y1="426.2" x2="166.34" y2="427.8" stroke="#0a0a0a" stroke-width="0.8"/>
<text x="43.6" y="437.6" font-size="6" text-anchor="middle" fill="#1a1a1a" stroke="#1a1a1a" stroke-width="0.18" transform="translate(43.6 437.6) scale(1.18 1) translate(-43.6 -437.6)">0</text>
<text x="102.05" y="437.6" font-size="6" text-anchor="middle" fill="#1a1a1a" stroke="#1a1a1a" stroke-width="0.18" transform="translate(102.05 437.6) scale(1.18 1) translate(-102.05 -437.6)">10</text>
<text x="160.5" y="437.6" font-size="6" text-anchor="middle" fill="#1a1a1a" stroke="#1a1a1a" stroke-width="0.18" transform="translate(160.5 437.6) scale(1.18 1) translate(-160.5 -437.6)">20</text>
<text x="102.05" y="449.6" font-size="7.3" text-anchor="middle" fill="#111" stroke="#111" stroke-width="0.35" textLength="13" lengthAdjust="spacingAndGlyphs">Days</text>
<line x1="130.98" y1="434.2" x2="130.98" y2="440.4" stroke="#3a9e4a" stroke-width="0.9"/>
<path d="M130.98 430.5 l-2.1 5.2 l4.2 0 z" fill="#2f9a44"/>
<line x1="137.12" y1="434.2" x2="137.12" y2="440.4" stroke="#3a9e4a" stroke-width="0.9"/>
<path d="M137.12 430.5 l-2.1 5.2 l4.2 0 z" fill="#2f9a44"/>
<text x="134.02" y="447.2" font-size="6" text-anchor="middle" fill="#3fa652" stroke="#3fa652" stroke-width="0.12">FMT</text>
<text x="106.8" y="336.5" font-size="8.4" text-anchor="middle" fill="#111" stroke="#111" stroke-width="0.18">16S rDNA</text>
<polyline points="43.6,369.16 125.43,379.24 148.81,374.38 166.34,374.99" fill="none" stroke="#1f4468" stroke-width="1.3" stroke-linejoin="round"/>
<polyline points="43.6,374.38 125.43,421.77 148.81,422.98 166.34,422.98" fill="none" stroke="#b5173a" stroke-width="1.3" stroke-linejoin="round"/>
<polyline points="43.6,377.18 125.43,421.77 148.81,396.25 166.34,391.39" fill="none" stroke="#43b04c" stroke-width="1.3" stroke-linejoin="round"/>
<polyline points="43.6,378.27 125.43,421.77 148.81,422.98 166.34,389.57" fill="none" stroke="#8a82bf" stroke-width="1.3" stroke-linejoin="round"/>
<line x1="43.6" y1="367.34" x2="43.6" y2="370.98" stroke="#151515" stroke-width="0.9"/>
<line x1="42" y1="367.34" x2="45.2" y2="367.34" stroke="#151515" stroke-width="0.9"/>
<line x1="42" y1="370.98" x2="45.2" y2="370.98" stroke="#151515" stroke-width="0.9"/>
<line x1="125.43" y1="374.99" x2="125.43" y2="383.5" stroke="#151515" stroke-width="0.9"/>
<line x1="123.83" y1="374.99" x2="127.03" y2="374.99" stroke="#151515" stroke-width="0.9"/>
<line x1="123.83" y1="383.5" x2="127.03" y2="383.5" stroke="#151515" stroke-width="0.9"/>
<line x1="148.81" y1="369.77" x2="148.81" y2="379" stroke="#151515" stroke-width="0.9"/>
<line x1="147.21" y1="369.77" x2="150.41" y2="369.77" stroke="#151515" stroke-width="0.9"/>
<line x1="147.21" y1="379" x2="150.41" y2="379" stroke="#151515" stroke-width="0.9"/>
<line x1="166.34" y1="367.7" x2="166.34" y2="382.28" stroke="#151515" stroke-width="0.9"/>
<line x1="164.75" y1="367.7" x2="167.94" y2="367.7" stroke="#151515" stroke-width="0.9"/>
<line x1="164.75" y1="382.28" x2="167.94" y2="382.28" stroke="#151515" stroke-width="0.9"/>
<circle cx="43.6" cy="369.16" r="2.3" fill="#244b6e" stroke="#03080e" stroke-width="1.1"/>
<circle cx="125.43" cy="379.24" r="2.3" fill="#244b6e" stroke="#03080e" stroke-width="1.1"/>
<circle cx="148.81" cy="374.38" r="2.3" fill="#244b6e" stroke="#03080e" stroke-width="1.1"/>
<circle cx="166.34" cy="374.99" r="2.3" fill="#244b6e" stroke="#03080e" stroke-width="1.1"/>
<line x1="43.6" y1="370.74" x2="43.6" y2="378.03" stroke="#151515" stroke-width="0.9"/>
<line x1="42" y1="370.74" x2="45.2" y2="370.74" stroke="#151515" stroke-width="0.9"/>
<line x1="42" y1="378.03" x2="45.2" y2="378.03" stroke="#151515" stroke-width="0.9"/>
<circle cx="43.6" cy="374.38" r="2.3" fill="#a9173e" stroke="#2a0108" stroke-width="1.1"/>
<circle cx="125.43" cy="421.77" r="2.3" fill="#a9173e" stroke="#2a0108" stroke-width="1.1"/>
<circle cx="148.81" cy="422.98" r="2.3" fill="#a9173e" stroke="#2a0108" stroke-width="1.1"/>
<circle cx="166.34" cy="422.98" r="2.3" fill="#a9173e" stroke="#2a0108" stroke-width="1.1"/>
<line x1="148.81" y1="387.5" x2="148.81" y2="405" stroke="#151515" stroke-width="0.9"/>
<line x1="147.21" y1="387.5" x2="150.41" y2="387.5" stroke="#151515" stroke-width="0.9"/>
<line x1="147.21" y1="405" x2="150.41" y2="405" stroke="#151515" stroke-width="0.9"/>
<line x1="166.34" y1="382.64" x2="166.34" y2="400.14" stroke="#151515" stroke-width="0.9"/>
<line x1="164.75" y1="382.64" x2="167.94" y2="382.64" stroke="#151515" stroke-width="0.9"/>
<line x1="164.75" y1="400.14" x2="167.94" y2="400.14" stroke="#151515" stroke-width="0.9"/>
<circle cx="43.6" cy="377.18" r="2.3" fill="#3c9f4e" stroke="#0a2a0e" stroke-width="1.1"/>
<circle cx="125.43" cy="421.77" r="2.3" fill="#3c9f4e" stroke="#0a2a0e" stroke-width="1.1"/>
<circle cx="148.81" cy="396.25" r="2.3" fill="#3c9f4e" stroke="#0a2a0e" stroke-width="1.1"/>
<circle cx="166.34" cy="391.39" r="2.3" fill="#3c9f4e" stroke="#0a2a0e" stroke-width="1.1"/>
<circle cx="43.6" cy="378.27" r="2.3" fill="#9697c8" stroke="#191933" stroke-width="1.1"/>
<circle cx="125.43" cy="421.77" r="2.3" fill="#9697c8" stroke="#191933" stroke-width="1.1"/>
<circle cx="148.81" cy="422.98" r="2.3" fill="#9697c8" stroke="#191933" stroke-width="1.1"/>
<circle cx="166.34" cy="389.57" r="2.3" fill="#9697c8" stroke="#191933" stroke-width="1.1"/>
<line x1="44" y1="424.5" x2="170.5" y2="424.5" stroke="#222" stroke-width="0.8" stroke-dasharray="0.8 0.9"/>
<line x1="50.6" y1="342.3" x2="68.5" y2="342.3" stroke="#1f4468" stroke-width="1.3"/>
<text x="71.7" y="344.4" font-size="6.2" fill="#222" stroke="#222" stroke-width="0.18">Ctrl</text>
<line x1="50.6" y1="350.97" x2="68.5" y2="350.97" stroke="#43b04c" stroke-width="1.3"/>
<text x="71.7" y="353.07" font-size="6.2" fill="#222" stroke="#222" stroke-width="0.18">Abx 14d + FMT</text>
<line x1="50.6" y1="359.64" x2="68.5" y2="359.64" stroke="#8a82bf" stroke-width="1.3"/>
<text x="71.7" y="361.74" font-size="6.2" fill="#222" stroke="#222" stroke-width="0.18">Abx 14d</text>
<line x1="50.6" y1="368.31" x2="68.5" y2="368.31" stroke="#b5173a" stroke-width="1.3"/>
<text x="71.7" y="370.41" font-size="6.2" fill="#222" stroke="#222" stroke-width="0.18">Abx 21d</text>
<line x1="207.5" y1="342.5" x2="207.5" y2="426" stroke="#0a0a0a" stroke-width="1"/>
<line x1="204.3" y1="425.5" x2="207.5" y2="425.5" stroke="#0a0a0a" stroke-width="1"/>
<text x="201.3" y="427.66" font-size="6" text-anchor="end" fill="#1a1a1a" stroke="#1a1a1a" stroke-width="0.1" transform="translate(201.3 427.66) scale(1.18 1) translate(-201.3 -427.66)">0</text>
<line x1="204.3" y1="409.5" x2="207.5" y2="409.5" stroke="#0a0a0a" stroke-width="1"/>
<text x="201.3" y="411.66" font-size="6" text-anchor="end" fill="#1a1a1a" stroke="#1a1a1a" stroke-width="0.1" transform="translate(201.3 411.66) scale(1.18 1) translate(-201.3 -411.66)">2</text>
<line x1="204.3" y1="393.5" x2="207.5" y2="393.5" stroke="#0a0a0a" stroke-width="1"/>
<text x="201.3" y="395.66" font-size="6" text-anchor="end" fill="#1a1a1a" stroke="#1a1a1a" stroke-width="0.1" transform="translate(201.3 395.66) scale(1.18 1) translate(-201.3 -395.66)">4</text>
<line x1="204.3" y1="377.5" x2="207.5" y2="377.5" stroke="#0a0a0a" stroke-width="1"/>
<text x="201.3" y="379.66" font-size="6" text-anchor="end" fill="#1a1a1a" stroke="#1a1a1a" stroke-width="0.1" transform="translate(201.3 379.66) scale(1.18 1) translate(-201.3 -379.66)">6</text>
<line x1="204.3" y1="360.5" x2="207.5" y2="360.5" stroke="#0a0a0a" stroke-width="1"/>
<text x="201.3" y="362.66" font-size="6" text-anchor="end" fill="#1a1a1a" stroke="#1a1a1a" stroke-width="0.1" transform="translate(201.3 362.66) scale(1.18 1) translate(-201.3 -362.66)">8</text>
<line x1="204.3" y1="344.5" x2="207.5" y2="344.5" stroke="#0a0a0a" stroke-width="1"/>
<text x="201.3" y="346.66" font-size="6" text-anchor="end" fill="#1a1a1a" stroke="#1a1a1a" stroke-width="0.1" transform="translate(201.3 346.66) scale(1.18 1) translate(-201.3 -346.66)">10</text>
<line x1="206.85" y1="425.9" x2="332.7" y2="425.9" stroke="#0a0a0a" stroke-width="0.9"/>
<line x1="207.3" y1="425.9" x2="207.3" y2="428.9" stroke="#0a0a0a" stroke-width="0.9"/>
<line x1="213.14" y1="425.9" x2="213.14" y2="427.5" stroke="#0a0a0a" stroke-width="0.8"/>
<line x1="218.98" y1="425.9" x2="218.98" y2="427.5" stroke="#0a0a0a" stroke-width="0.8"/>
<line x1="224.82" y1="425.9" x2="224.82" y2="427.5" stroke="#0a0a0a" stroke-width="0.8"/>
<line x1="230.66" y1="425.9" x2="230.66" y2="427.5" stroke="#0a0a0a" stroke-width="0.8"/>
<line x1="236.5" y1="425.9" x2="236.5" y2="427.5" stroke="#0a0a0a" stroke-width="0.8"/>
<line x1="242.34" y1="425.9" x2="242.34" y2="427.5" stroke="#0a0a0a" stroke-width="0.8"/>
<line x1="248.18" y1="425.9" x2="248.18" y2="427.5" stroke="#0a0a0a" stroke-width="0.8"/>
<line x1="254.02" y1="425.9" x2="254.02" y2="427.5" stroke="#0a0a0a" stroke-width="0.8"/>
<line x1="259.86" y1="425.9" x2="259.86" y2="427.5" stroke="#0a0a0a" stroke-width="0.8"/>
<line x1="265.7" y1="425.9" x2="265.7" y2="428.9" stroke="#0a0a0a" stroke-width="0.9"/>
<line x1="271.54" y1="425.9" x2="271.54" y2="427.5" stroke="#0a0a0a" stroke-width="0.8"/>
<line x1="277.38" y1="425.9" x2="277.38" y2="427.5" stroke="#0a0a0a" stroke-width="0.8"/>
<line x1="283.22" y1="425.9" x2="283.22" y2="427.5" stroke="#0a0a0a" stroke-width="0.8"/>
<line x1="289.06" y1="425.9" x2="289.06" y2="427.5" stroke="#0a0a0a" stroke-width="0.8"/>
<line x1="294.9" y1="425.9" x2="294.9" y2="427.5" stroke="#0a0a0a" stroke-width="0.8"/>
<line x1="300.74" y1="425.9" x2="300.74" y2="427.5" stroke="#0a0a0a" stroke-width="0.8"/>
<line x1="306.58" y1="425.9" x2="306.58" y2="427.5" stroke="#0a0a0a" stroke-width="0.8"/>
<line x1="312.42" y1="425.9" x2="312.42" y2="427.5" stroke="#0a0a0a" stroke-width="0.8"/>
<line x1="318.26" y1="425.9" x2="318.26" y2="427.5" stroke="#0a0a0a" stroke-width="0.8"/>
<line x1="324.1" y1="425.9" x2="324.1" y2="428.9" stroke="#0a0a0a" stroke-width="0.9"/>
<line x1="329.94" y1="425.9" x2="329.94" y2="427.5" stroke="#0a0a0a" stroke-width="0.8"/>
<text x="207.3" y="437.3" font-size="6" text-anchor="middle" fill="#1a1a1a" stroke="#1a1a1a" stroke-width="0.18" transform="translate(207.3 437.3) scale(1.18 1) translate(-207.3 -437.3)">0</text>
<text x="265.7" y="437.3" font-size="6" text-anchor="middle" fill="#1a1a1a" stroke="#1a1a1a" stroke-width="0.18" transform="translate(265.7 437.3) scale(1.18 1) translate(-265.7 -437.3)">10</text>
<text x="324.1" y="437.3" font-size="6" text-anchor="middle" fill="#1a1a1a" stroke="#1a1a1a" stroke-width="0.18" transform="translate(324.1 437.3) scale(1.18 1) translate(-324.1 -437.3)">20</text>
<text x="265.7" y="449.3" font-size="7.3" text-anchor="middle" fill="#111" stroke="#111" stroke-width="0.35" textLength="13" lengthAdjust="spacingAndGlyphs">Days</text>
<line x1="294.61" y1="433.9" x2="294.61" y2="440.1" stroke="#3a9e4a" stroke-width="0.9"/>
<path d="M294.61 430.2 l-2.1 5.2 l4.2 0 z" fill="#2f9a44"/>
<line x1="300.74" y1="433.9" x2="300.74" y2="440.1" stroke="#3a9e4a" stroke-width="0.9"/>
<path d="M300.74 430.2 l-2.1 5.2 l4.2 0 z" fill="#2f9a44"/>
<text x="297.64" y="446.9" font-size="6" text-anchor="middle" fill="#3fa652" stroke="#3fa652" stroke-width="0.12">FMT</text>
<text x="270.4" y="336.5" font-size="8.4" text-anchor="middle" fill="#111" stroke="#111" stroke-width="0.18">White Blood Cells</text>
<text x="188.3" y="380.9" font-size="7.6" text-anchor="middle" fill="#111" stroke="#111" stroke-width="0.32" transform="rotate(-90 188.3 380.9)" textLength="16.2" lengthAdjust="spacingAndGlyphs">10<tspan font-size="4.5" dy="-2.9">3</tspan><tspan dy="2.9">/uL</tspan></text>
<polyline points="207.3,371.19 289.06,363.87 312.42,373.71 329.94,365.17" fill="none" stroke="#1f4468" stroke-width="1.3" stroke-linejoin="round"/>
<polyline points="207.3,369.23 289.06,395.33 312.42,408.83 329.94,398.18" fill="none" stroke="#b5173a" stroke-width="1.3" stroke-linejoin="round"/>
<polyline points="207.3,363.38 289.06,397.2 312.42,388.1 329.94,381.02" fill="none" stroke="#43b04c" stroke-width="1.3" stroke-linejoin="round"/>
<polyline points="207.3,365.98 289.06,403.14 312.42,390.21 329.94,392" fill="none" stroke="#8a82bf" stroke-width="1.3" stroke-linejoin="round"/>
<line x1="207.3" y1="366.31" x2="207.3" y2="376.06" stroke="#151515" stroke-width="0.9"/>
<line x1="205.7" y1="366.31" x2="208.9" y2="366.31" stroke="#151515" stroke-width="0.9"/>
<line x1="205.7" y1="376.06" x2="208.9" y2="376.06" stroke="#151515" stroke-width="0.9"/>
<line x1="289.06" y1="358.99" x2="289.06" y2="368.75" stroke="#151515" stroke-width="0.9"/>
<line x1="287.46" y1="358.99" x2="290.66" y2="358.99" stroke="#151515" stroke-width="0.9"/>
<line x1="287.46" y1="368.75" x2="290.66" y2="368.75" stroke="#151515" stroke-width="0.9"/>
<line x1="329.94" y1="358.83" x2="329.94" y2="371.51" stroke="#151515" stroke-width="0.9"/>
<line x1="328.34" y1="358.83" x2="331.54" y2="358.83" stroke="#151515" stroke-width="0.9"/>
<line x1="328.34" y1="371.51" x2="331.54" y2="371.51" stroke="#151515" stroke-width="0.9"/>
<circle cx="207.3" cy="371.19" r="2.3" fill="#244b6e" stroke="#03080e" stroke-width="1.1"/>
<circle cx="289.06" cy="363.87" r="2.3" fill="#244b6e" stroke="#03080e" stroke-width="1.1"/>
<circle cx="312.42" cy="373.71" r="2.3" fill="#244b6e" stroke="#03080e" stroke-width="1.1"/>
<circle cx="329.94" cy="365.17" r="2.3" fill="#244b6e" stroke="#03080e" stroke-width="1.1"/>
<line x1="289.06" y1="389.64" x2="289.06" y2="401.02" stroke="#151515" stroke-width="0.9"/>
<line x1="287.46" y1="389.64" x2="290.66" y2="389.64" stroke="#151515" stroke-width="0.9"/>
<line x1="287.46" y1="401.02" x2="290.66" y2="401.02" stroke="#151515" stroke-width="0.9"/>
<line x1="329.94" y1="394.11" x2="329.94" y2="402.24" stroke="#151515" stroke-width="0.9"/>
<line x1="328.34" y1="394.11" x2="331.54" y2="394.11" stroke="#151515" stroke-width="0.9"/>
<line x1="328.34" y1="402.24" x2="331.54" y2="402.24" stroke="#151515" stroke-width="0.9"/>
<circle cx="207.3" cy="369.23" r="2.3" fill="#a9173e" stroke="#2a0108" stroke-width="1.1"/>
<circle cx="289.06" cy="395.33" r="2.3" fill="#a9173e" stroke="#2a0108" stroke-width="1.1"/>
<circle cx="312.42" cy="408.83" r="2.3" fill="#a9173e" stroke="#2a0108" stroke-width="1.1"/>
<circle cx="329.94" cy="398.18" r="2.3" fill="#a9173e" stroke="#2a0108" stroke-width="1.1"/>
<line x1="289.06" y1="393.14" x2="289.06" y2="401.27" stroke="#151515" stroke-width="0.9"/>
<line x1="287.46" y1="393.14" x2="290.66" y2="393.14" stroke="#151515" stroke-width="0.9"/>
<line x1="287.46" y1="401.27" x2="290.66" y2="401.27" stroke="#151515" stroke-width="0.9"/>
<line x1="312.42" y1="377.53" x2="312.42" y2="398.66" stroke="#151515" stroke-width="0.9"/>
<line x1="310.82" y1="377.53" x2="314.02" y2="377.53" stroke="#151515" stroke-width="0.9"/>
<line x1="310.82" y1="398.66" x2="314.02" y2="398.66" stroke="#151515" stroke-width="0.9"/>
<line x1="329.94" y1="376.14" x2="329.94" y2="385.9" stroke="#151515" stroke-width="0.9"/>
<line x1="328.34" y1="376.14" x2="331.54" y2="376.14" stroke="#151515" stroke-width="0.9"/>
<line x1="328.34" y1="385.9" x2="331.54" y2="385.9" stroke="#151515" stroke-width="0.9"/>
<circle cx="207.3" cy="363.38" r="2.3" fill="#3c9f4e" stroke="#0a2a0e" stroke-width="1.1"/>
<circle cx="289.06" cy="397.2" r="2.3" fill="#3c9f4e" stroke="#0a2a0e" stroke-width="1.1"/>
<circle cx="312.42" cy="388.1" r="2.3" fill="#3c9f4e" stroke="#0a2a0e" stroke-width="1.1"/>
<circle cx="329.94" cy="381.02" r="2.3" fill="#3c9f4e" stroke="#0a2a0e" stroke-width="1.1"/>
<line x1="289.06" y1="399.88" x2="289.06" y2="406.39" stroke="#151515" stroke-width="0.9"/>
<line x1="287.46" y1="399.88" x2="290.66" y2="399.88" stroke="#151515" stroke-width="0.9"/>
<line x1="287.46" y1="406.39" x2="290.66" y2="406.39" stroke="#151515" stroke-width="0.9"/>
<circle cx="207.3" cy="365.98" r="2.3" fill="#9697c8" stroke="#191933" stroke-width="1.1"/>
<circle cx="289.06" cy="403.14" r="2.3" fill="#9697c8" stroke="#191933" stroke-width="1.1"/>
<circle cx="312.42" cy="390.21" r="2.3" fill="#9697c8" stroke="#191933" stroke-width="1.1"/>
<circle cx="329.94" cy="392" r="2.3" fill="#9697c8" stroke="#191933" stroke-width="1.1"/>
<line x1="367.5" y1="343.5" x2="367.5" y2="426" stroke="#0a0a0a" stroke-width="1"/>
<line x1="364.3" y1="425.5" x2="367.5" y2="425.5" stroke="#0a0a0a" stroke-width="1"/>
<text x="361.3" y="427.66" font-size="6" text-anchor="end" fill="#1a1a1a" stroke="#1a1a1a" stroke-width="0.1" transform="translate(361.3 427.66) scale(1.18 1) translate(-361.3 -427.66)">0</text>
<line x1="364.3" y1="405.5" x2="367.5" y2="405.5" stroke="#0a0a0a" stroke-width="1"/>
<text x="361.3" y="407.66" font-size="6" text-anchor="end" fill="#1a1a1a" stroke="#1a1a1a" stroke-width="0.1" transform="translate(361.3 407.66) scale(1.18 1) translate(-361.3 -407.66)">2</text>
<line x1="364.3" y1="385.5" x2="367.5" y2="385.5" stroke="#0a0a0a" stroke-width="1"/>
<text x="361.3" y="387.66" font-size="6" text-anchor="end" fill="#1a1a1a" stroke="#1a1a1a" stroke-width="0.1" transform="translate(361.3 387.66) scale(1.18 1) translate(-361.3 -387.66)">4</text>
<line x1="364.3" y1="365.5" x2="367.5" y2="365.5" stroke="#0a0a0a" stroke-width="1"/>
<text x="361.3" y="367.66" font-size="6" text-anchor="end" fill="#1a1a1a" stroke="#1a1a1a" stroke-width="0.1" transform="translate(361.3 367.66) scale(1.18 1) translate(-361.3 -367.66)">6</text>
<line x1="364.3" y1="345.5" x2="367.5" y2="345.5" stroke="#0a0a0a" stroke-width="1"/>
<text x="361.3" y="347.66" font-size="6" text-anchor="end" fill="#1a1a1a" stroke="#1a1a1a" stroke-width="0.1" transform="translate(361.3 347.66) scale(1.18 1) translate(-361.3 -347.66)">8</text>
<line x1="366.85" y1="425.7" x2="492.3" y2="425.7" stroke="#0a0a0a" stroke-width="0.9"/>
<line x1="367.3" y1="425.7" x2="367.3" y2="428.7" stroke="#0a0a0a" stroke-width="0.9"/>
<line x1="373.05" y1="425.7" x2="373.05" y2="427.3" stroke="#0a0a0a" stroke-width="0.8"/>
<line x1="378.8" y1="425.7" x2="378.8" y2="427.3" stroke="#0a0a0a" stroke-width="0.8"/>
<line x1="384.55" y1="425.7" x2="384.55" y2="427.3" stroke="#0a0a0a" stroke-width="0.8"/>
<line x1="390.3" y1="425.7" x2="390.3" y2="427.3" stroke="#0a0a0a" stroke-width="0.8"/>
<line x1="396.05" y1="425.7" x2="396.05" y2="427.3" stroke="#0a0a0a" stroke-width="0.8"/>
<line x1="401.8" y1="425.7" x2="401.8" y2="427.3" stroke="#0a0a0a" stroke-width="0.8"/>
<line x1="407.55" y1="425.7" x2="407.55" y2="427.3" stroke="#0a0a0a" stroke-width="0.8"/>
<line x1="413.3" y1="425.7" x2="413.3" y2="427.3" stroke="#0a0a0a" stroke-width="0.8"/>
<line x1="419.05" y1="425.7" x2="419.05" y2="427.3" stroke="#0a0a0a" stroke-width="0.8"/>
<line x1="424.8" y1="425.7" x2="424.8" y2="428.7" stroke="#0a0a0a" stroke-width="0.9"/>
<line x1="430.55" y1="425.7" x2="430.55" y2="427.3" stroke="#0a0a0a" stroke-width="0.8"/>
<line x1="436.3" y1="425.7" x2="436.3" y2="427.3" stroke="#0a0a0a" stroke-width="0.8"/>
<line x1="442.05" y1="425.7" x2="442.05" y2="427.3" stroke="#0a0a0a" stroke-width="0.8"/>
<line x1="447.8" y1="425.7" x2="447.8" y2="427.3" stroke="#0a0a0a" stroke-width="0.8"/>
<line x1="453.55" y1="425.7" x2="453.55" y2="427.3" stroke="#0a0a0a" stroke-width="0.8"/>
<line x1="459.3" y1="425.7" x2="459.3" y2="427.3" stroke="#0a0a0a" stroke-width="0.8"/>
<line x1="465.05" y1="425.7" x2="465.05" y2="427.3" stroke="#0a0a0a" stroke-width="0.8"/>
<line x1="470.8" y1="425.7" x2="470.8" y2="427.3" stroke="#0a0a0a" stroke-width="0.8"/>
<line x1="476.55" y1="425.7" x2="476.55" y2="427.3" stroke="#0a0a0a" stroke-width="0.8"/>
<line x1="482.3" y1="425.7" x2="482.3" y2="428.7" stroke="#0a0a0a" stroke-width="0.9"/>
<line x1="488.05" y1="425.7" x2="488.05" y2="427.3" stroke="#0a0a0a" stroke-width="0.8"/>
<text x="367.3" y="437.1" font-size="6" text-anchor="middle" fill="#1a1a1a" stroke="#1a1a1a" stroke-width="0.18" transform="translate(367.3 437.1) scale(1.18 1) translate(-367.3 -437.1)">0</text>
<text x="424.8" y="437.1" font-size="6" text-anchor="middle" fill="#1a1a1a" stroke="#1a1a1a" stroke-width="0.18" transform="translate(424.8 437.1) scale(1.18 1) translate(-424.8 -437.1)">10</text>
<text x="482.3" y="437.1" font-size="6" text-anchor="middle" fill="#1a1a1a" stroke="#1a1a1a" stroke-width="0.18" transform="translate(482.3 437.1) scale(1.18 1) translate(-482.3 -437.1)">20</text>
<text x="424.8" y="449.1" font-size="7.3" text-anchor="middle" fill="#111" stroke="#111" stroke-width="0.35" textLength="13" lengthAdjust="spacingAndGlyphs">Days</text>
<line x1="453.26" y1="433.7" x2="453.26" y2="439.9" stroke="#3a9e4a" stroke-width="0.9"/>
<path d="M453.26 430 l-2.1 5.2 l4.2 0 z" fill="#2f9a44"/>
<line x1="459.3" y1="433.7" x2="459.3" y2="439.9" stroke="#3a9e4a" stroke-width="0.9"/>
<path d="M459.3 430 l-2.1 5.2 l4.2 0 z" fill="#2f9a44"/>
<text x="456.25" y="446.7" font-size="6" text-anchor="middle" fill="#3fa652" stroke="#3fa652" stroke-width="0.12">FMT</text>
<text x="429.3" y="336.5" font-size="8.4" text-anchor="middle" fill="#111" stroke="#111" stroke-width="0.18">Absolute Lymphocytes</text>
<text x="352.3" y="381.9" font-size="7.6" text-anchor="middle" fill="#111" stroke="#111" stroke-width="0.32" transform="rotate(-90 352.3 381.9)" textLength="15.7" lengthAdjust="spacingAndGlyphs">10<tspan font-size="4.5" dy="-2.9">3</tspan><tspan dy="2.9">/uL</tspan></text>
<polyline points="367.3,367.05 447.8,358 470.8,371.07 488.05,359.3" fill="none" stroke="#1f4468" stroke-width="1.3" stroke-linejoin="round"/>
<polyline points="367.3,364.54 447.8,397.03 470.8,409.6 488.05,400.55" fill="none" stroke="#b5173a" stroke-width="1.3" stroke-linejoin="round"/>
<polyline points="367.3,359.3 447.8,399.14 470.8,389.18 488.05,381.94" fill="none" stroke="#43b04c" stroke-width="1.3" stroke-linejoin="round"/>
<polyline points="367.3,362.62 447.8,403.57 470.8,389.69 488.05,389.69" fill="none" stroke="#8a82bf" stroke-width="1.3" stroke-linejoin="round"/>
<line x1="367.3" y1="362.02" x2="367.3" y2="372.08" stroke="#151515" stroke-width="0.9"/>
<line x1="365.7" y1="362.02" x2="368.9" y2="362.02" stroke="#151515" stroke-width="0.9"/>
<line x1="365.7" y1="372.08" x2="368.9" y2="372.08" stroke="#151515" stroke-width="0.9"/>
<line x1="447.8" y1="351.46" x2="447.8" y2="364.54" stroke="#151515" stroke-width="0.9"/>
<line x1="446.2" y1="351.46" x2="449.4" y2="351.46" stroke="#151515" stroke-width="0.9"/>
<line x1="446.2" y1="364.54" x2="449.4" y2="364.54" stroke="#151515" stroke-width="0.9"/>
<line x1="488.05" y1="352.76" x2="488.05" y2="365.84" stroke="#151515" stroke-width="0.9"/>
<line x1="486.45" y1="352.76" x2="489.65" y2="352.76" stroke="#151515" stroke-width="0.9"/>
<line x1="486.45" y1="365.84" x2="489.65" y2="365.84" stroke="#151515" stroke-width="0.9"/>
<circle cx="367.3" cy="367.05" r="2.3" fill="#244b6e" stroke="#03080e" stroke-width="1.1"/>
<circle cx="447.8" cy="358" r="2.3" fill="#244b6e" stroke="#03080e" stroke-width="1.1"/>
<circle cx="470.8" cy="371.07" r="2.3" fill="#244b6e" stroke="#03080e" stroke-width="1.1"/>
<circle cx="488.05" cy="359.3" r="2.3" fill="#244b6e" stroke="#03080e" stroke-width="1.1"/>
<line x1="447.8" y1="389.48" x2="447.8" y2="404.57" stroke="#151515" stroke-width="0.9"/>
<line x1="446.2" y1="389.48" x2="449.4" y2="389.48" stroke="#151515" stroke-width="0.9"/>
<line x1="446.2" y1="404.57" x2="449.4" y2="404.57" stroke="#151515" stroke-width="0.9"/>
<line x1="470.8" y1="406.59" x2="470.8" y2="412.62" stroke="#151515" stroke-width="0.9"/>
<line x1="469.2" y1="406.59" x2="472.4" y2="406.59" stroke="#151515" stroke-width="0.9"/>
<line x1="469.2" y1="412.62" x2="472.4" y2="412.62" stroke="#151515" stroke-width="0.9"/>
<line x1="488.05" y1="393" x2="488.05" y2="408.09" stroke="#151515" stroke-width="0.9"/>
<line x1="486.45" y1="393" x2="489.65" y2="393" stroke="#151515" stroke-width="0.9"/>
<line x1="486.45" y1="408.09" x2="489.65" y2="408.09" stroke="#151515" stroke-width="0.9"/>
<circle cx="367.3" cy="364.54" r="2.3" fill="#a9173e" stroke="#2a0108" stroke-width="1.1"/>
<circle cx="447.8" cy="397.03" r="2.3" fill="#a9173e" stroke="#2a0108" stroke-width="1.1"/>
<circle cx="470.8" cy="409.6" r="2.3" fill="#a9173e" stroke="#2a0108" stroke-width="1.1"/>
<circle cx="488.05" cy="400.55" r="2.3" fill="#a9173e" stroke="#2a0108" stroke-width="1.1"/>
<line x1="447.8" y1="395.12" x2="447.8" y2="403.17" stroke="#151515" stroke-width="0.9"/>
<line x1="446.2" y1="395.12" x2="449.4" y2="395.12" stroke="#151515" stroke-width="0.9"/>
<line x1="446.2" y1="403.17" x2="449.4" y2="403.17" stroke="#151515" stroke-width="0.9"/>
<line x1="470.8" y1="378.62" x2="470.8" y2="399.75" stroke="#151515" stroke-width="0.9"/>
<line x1="469.2" y1="378.62" x2="472.4" y2="378.62" stroke="#151515" stroke-width="0.9"/>
<line x1="469.2" y1="399.75" x2="472.4" y2="399.75" stroke="#151515" stroke-width="0.9"/>
<line x1="488.05" y1="375.9" x2="488.05" y2="387.98" stroke="#151515" stroke-width="0.9"/>
<line x1="486.45" y1="375.9" x2="489.65" y2="375.9" stroke="#151515" stroke-width="0.9"/>
<line x1="486.45" y1="387.98" x2="489.65" y2="387.98" stroke="#151515" stroke-width="0.9"/>
<circle cx="367.3" cy="359.3" r="2.3" fill="#3c9f4e" stroke="#0a2a0e" stroke-width="1.1"/>
<circle cx="447.8" cy="399.14" r="2.3" fill="#3c9f4e" stroke="#0a2a0e" stroke-width="1.1"/>
<circle cx="470.8" cy="389.18" r="2.3" fill="#3c9f4e" stroke="#0a2a0e" stroke-width="1.1"/>
<circle cx="488.05" cy="381.94" r="2.3" fill="#3c9f4e" stroke="#0a2a0e" stroke-width="1.1"/>
<line x1="447.8" y1="400.55" x2="447.8" y2="406.59" stroke="#151515" stroke-width="0.9"/>
<line x1="446.2" y1="400.55" x2="449.4" y2="400.55" stroke="#151515" stroke-width="0.9"/>
<line x1="446.2" y1="406.59" x2="449.4" y2="406.59" stroke="#151515" stroke-width="0.9"/>
<circle cx="367.3" cy="362.62" r="2.3" fill="#9697c8" stroke="#191933" stroke-width="1.1"/>
<circle cx="447.8" cy="403.57" r="2.3" fill="#9697c8" stroke="#191933" stroke-width="1.1"/>
<circle cx="470.8" cy="389.69" r="2.3" fill="#9697c8" stroke="#191933" stroke-width="1.1"/>
<circle cx="488.05" cy="389.69" r="2.3" fill="#9697c8" stroke="#191933" stroke-width="1.1"/>
<text x="14" y="377.8" font-size="6.8" text-anchor="middle" fill="#111" stroke="#111" stroke-width="0.32" transform="rotate(-90 14 377.8)" textLength="37" lengthAdjust="spacingAndGlyphs">16S copies per</text>
<text x="23.3" y="377.8" font-size="6.8" text-anchor="middle" fill="#111" stroke="#111" stroke-width="0.32" transform="rotate(-90 23.3 377.8)" textLength="46" lengthAdjust="spacingAndGlyphs">fecal pellet (Log<tspan font-size="4.2" dy="1.7">10</tspan><tspan dy="-1.7">)</tspan></text>
<line x1="47.8" y1="484.2" x2="430.3" y2="484.2" stroke="#111" stroke-width="1"/>
<text x="242.3" y="479.2" font-size="7.8" text-anchor="middle" fill="#111" stroke="#111" stroke-width="0.18">Day 21</text>
<line x1="43.5" y1="535.8" x2="43.5" y2="601" stroke="#0a0a0a" stroke-width="1"/>
<line x1="40.3" y1="593.5" x2="43.5" y2="593.5" stroke="#0a0a0a" stroke-width="1"/>
<text x="37.3" y="595.66" font-size="6" text-anchor="end" fill="#1a1a1a" stroke="#1a1a1a" stroke-width="0.1" transform="translate(37.3 595.66) scale(1.18 1) translate(-37.3 -595.66)">6</text>
<line x1="40.3" y1="574.5" x2="43.5" y2="574.5" stroke="#0a0a0a" stroke-width="1"/>
<text x="37.3" y="576.66" font-size="6" text-anchor="end" fill="#1a1a1a" stroke="#1a1a1a" stroke-width="0.1" transform="translate(37.3 576.66) scale(1.18 1) translate(-37.3 -576.66)">8</text>
<line x1="40.3" y1="556.5" x2="43.5" y2="556.5" stroke="#0a0a0a" stroke-width="1"/>
<text x="37.3" y="558.66" font-size="6" text-anchor="end" fill="#1a1a1a" stroke="#1a1a1a" stroke-width="0.1" transform="translate(37.3 558.66) scale(1.18 1) translate(-37.3 -558.66)">10</text>
<line x1="40.3" y1="537.5" x2="43.5" y2="537.5" stroke="#0a0a0a" stroke-width="1"/>
<text x="37.3" y="539.66" font-size="6" text-anchor="end" fill="#1a1a1a" stroke="#1a1a1a" stroke-width="0.1" transform="translate(37.3 539.66) scale(1.18 1) translate(-37.3 -539.66)">12</text>
<line x1="43" y1="600.5" x2="106" y2="600.5" stroke="#0a0a0a" stroke-width="1"/>
<line x1="53.5" y1="600.5" x2="53.5" y2="603.5" stroke="#0a0a0a" stroke-width="1"/>
<line x1="67.5" y1="600.5" x2="67.5" y2="603.5" stroke="#0a0a0a" stroke-width="1"/>
<line x1="82.5" y1="600.5" x2="82.5" y2="603.5" stroke="#0a0a0a" stroke-width="1"/>
<line x1="96.5" y1="600.5" x2="96.5" y2="603.5" stroke="#0a0a0a" stroke-width="1"/>
<text x="55.8" y="609.9" font-size="6.4" text-anchor="end" fill="#1a1a1a" stroke="#1a1a1a" stroke-width="0.18" transform="rotate(-45 55.8 609.9)">Ctrl</text>
<text x="70.2" y="609.9" font-size="6.4" text-anchor="end" fill="#1a1a1a" stroke="#1a1a1a" stroke-width="0.18" transform="rotate(-45 70.2 609.9)">Abx 14d + FMT</text>
<text x="84.5" y="609.9" font-size="6.4" text-anchor="end" fill="#1a1a1a" stroke="#1a1a1a" stroke-width="0.18" transform="rotate(-45 84.5 609.9)">Abx 14d</text>
<text x="98.9" y="609.9" font-size="6.4" text-anchor="end" fill="#1a1a1a" stroke="#1a1a1a" stroke-width="0.18" transform="rotate(-45 98.9 609.9)">Abx 21d</text>
<text x="74.7" y="495.8" font-size="8.4" text-anchor="middle" fill="#111" stroke="#111" stroke-width="0.18">16S rDNA</text>
<polyline points="53.4,519 53.4,513.3 96.5,513.3 96.5,594" fill="none" stroke="#484848" stroke-width="0.95" stroke-linejoin="round"/>
<text x="71.95" y="512.2" font-size="5.6" text-anchor="middle" fill="#111" stroke="#111" stroke-width="0.2">*</text>
<text x="74.95" y="512.2" font-size="5.6" text-anchor="middle" fill="#111" stroke="#111" stroke-width="0.2">*</text>
<text x="77.95" y="512.2" font-size="5.6" text-anchor="middle" fill="#111" stroke="#111" stroke-width="0.2">*</text>
<polyline points="53.4,532 53.4,526.7 82.1,526.7 82.1,552.2" fill="none" stroke="#484848" stroke-width="0.95" stroke-linejoin="round"/>
<text x="67.75" y="524.6" font-size="5.8" text-anchor="middle" fill="#222" stroke="#222" stroke-width="0.18">ns</text>
<polyline points="53.4,546.5 53.4,541.4 67.8,541.4 67.8,552.2" fill="none" stroke="#484848" stroke-width="0.95" stroke-linejoin="round"/>
<text x="60.6" y="538.8" font-size="5.8" text-anchor="middle" fill="#222" stroke="#222" stroke-width="0.18">ns</text>
<circle cx="53.4" cy="549.5" r="2.5" fill="#244b6e" stroke="#03080e" stroke-width="0.9"/>
<circle cx="50.7" cy="555.6" r="2.5" fill="#244b6e" stroke="#03080e" stroke-width="0.9"/>
<circle cx="55.5" cy="555.6" r="2.5" fill="#244b6e" stroke="#03080e" stroke-width="0.9"/>
<circle cx="55.5" cy="557.6" r="2.5" fill="#244b6e" stroke="#03080e" stroke-width="0.9"/>
<circle cx="53.4" cy="564.3" r="2.5" fill="#244b6e" stroke="#03080e" stroke-width="0.9"/>
<circle cx="53.4" cy="585.9" r="2.5" fill="#244b6e" stroke="#03080e" stroke-width="0.9"/>
<circle cx="65.6" cy="558.9" r="2.5" fill="#3c9f4e" stroke="#0a2a0e" stroke-width="0.9"/>
<circle cx="70.3" cy="557.9" r="2.5" fill="#3c9f4e" stroke="#0a2a0e" stroke-width="0.9"/>
<circle cx="67.8" cy="569" r="2.5" fill="#3c9f4e" stroke="#0a2a0e" stroke-width="0.9"/>
<circle cx="67.8" cy="573.7" r="2.5" fill="#3c9f4e" stroke="#0a2a0e" stroke-width="0.9"/>
<circle cx="67.8" cy="587.9" r="2.5" fill="#3c9f4e" stroke="#0a2a0e" stroke-width="0.9"/>
<circle cx="67.8" cy="598.9" r="2.5" fill="#3c9f4e" stroke="#0a2a0e" stroke-width="0.9"/>
<circle cx="79.7" cy="558.3" r="2.5" fill="#9697c8" stroke="#191933" stroke-width="0.9"/>
<circle cx="84.8" cy="562.3" r="2.5" fill="#9697c8" stroke="#191933" stroke-width="0.9"/>
<circle cx="79.7" cy="563.9" r="2.5" fill="#9697c8" stroke="#191933" stroke-width="0.9"/>
<circle cx="79.7" cy="569" r="2.5" fill="#9697c8" stroke="#191933" stroke-width="0.9"/>
<circle cx="84.8" cy="573" r="2.5" fill="#9697c8" stroke="#191933" stroke-width="0.9"/>
<circle cx="79.7" cy="575.8" r="2.5" fill="#9697c8" stroke="#191933" stroke-width="0.9"/>
<circle cx="82.1" cy="581.2" r="2.5" fill="#9697c8" stroke="#191933" stroke-width="0.9"/>
<circle cx="82.1" cy="598.9" r="2.5" fill="#9697c8" stroke="#191933" stroke-width="0.9"/>
<circle cx="94.5" cy="598.2" r="2.5" fill="#a9173e" stroke="#2a0108" stroke-width="0.9"/>
<circle cx="96.5" cy="598.6" r="2.5" fill="#a9173e" stroke="#2a0108" stroke-width="0.9"/>
<circle cx="98.5" cy="599" r="2.5" fill="#a9173e" stroke="#2a0108" stroke-width="0.9"/>
<circle cx="95.5" cy="599.3" r="2.5" fill="#a9173e" stroke="#2a0108" stroke-width="0.9"/>
<circle cx="97.8" cy="599.4" r="2.5" fill="#a9173e" stroke="#2a0108" stroke-width="0.9"/>
<line x1="49.15" y1="561.6" x2="57.65" y2="561.6" stroke="#111" stroke-width="0.95"/>
<line x1="53.4" y1="559.5" x2="53.4" y2="561.6" stroke="#111" stroke-width="0.95"/>
<line x1="51.8" y1="559.5" x2="55" y2="559.5" stroke="#111" stroke-width="0.95"/>
<line x1="63.55" y1="573.7" x2="72.05" y2="573.7" stroke="#111" stroke-width="0.95"/>
<line x1="67.8" y1="570.4" x2="67.8" y2="580.5" stroke="#111" stroke-width="0.95"/>
<line x1="66.2" y1="570.4" x2="69.4" y2="570.4" stroke="#111" stroke-width="0.95"/>
<line x1="66.2" y1="580.5" x2="69.4" y2="580.5" stroke="#111" stroke-width="0.95"/>
<line x1="77.85" y1="568.5" x2="86.35" y2="568.5" stroke="#111" stroke-width="0.95"/>
<line x1="82.1" y1="566" x2="82.1" y2="568.5" stroke="#111" stroke-width="0.95"/>
<line x1="80.5" y1="566" x2="83.7" y2="566" stroke="#111" stroke-width="0.95"/>
<line x1="44" y1="599.0" x2="106" y2="599.0" stroke="#222" stroke-width="0.8" stroke-dasharray="0.8 0.9"/>
<text x="14.4" y="563.8" font-size="6.8" text-anchor="middle" fill="#111" stroke="#111" stroke-width="0.32" transform="rotate(-90 14.4 563.8)" textLength="37.8" lengthAdjust="spacingAndGlyphs">16S copies per</text>
<text x="24.6" y="564" font-size="6.8" text-anchor="middle" fill="#111" stroke="#111" stroke-width="0.32" transform="rotate(-90 24.6 564)" textLength="49.4" lengthAdjust="spacingAndGlyphs">fecal pellet (Log<tspan font-size="4.2" dy="1.7">10</tspan><tspan dy="-1.7">)</tspan></text>
<line x1="145.5" y1="535.8" x2="145.5" y2="601" stroke="#0a0a0a" stroke-width="1"/>
<line x1="142.3" y1="600.5" x2="145.5" y2="600.5" stroke="#0a0a0a" stroke-width="1"/>
<text x="139.3" y="602.66" font-size="6" text-anchor="end" fill="#1a1a1a" stroke="#1a1a1a" stroke-width="0.1" transform="translate(139.3 602.66) scale(1.18 1) translate(-139.3 -602.66)">0</text>
<line x1="142.3" y1="579.5" x2="145.5" y2="579.5" stroke="#0a0a0a" stroke-width="1"/>
<text x="139.3" y="581.66" font-size="6" text-anchor="end" fill="#1a1a1a" stroke="#1a1a1a" stroke-width="0.1" transform="translate(139.3 581.66) scale(1.18 1) translate(-139.3 -581.66)">5</text>
<line x1="142.3" y1="558.5" x2="145.5" y2="558.5" stroke="#0a0a0a" stroke-width="1"/>
<text x="139.3" y="560.66" font-size="6" text-anchor="end" fill="#1a1a1a" stroke="#1a1a1a" stroke-width="0.1" transform="translate(139.3 560.66) scale(1.18 1) translate(-139.3 -560.66)">10</text>
<line x1="142.3" y1="537.5" x2="145.5" y2="537.5" stroke="#0a0a0a" stroke-width="1"/>
<text x="139.3" y="539.66" font-size="6" text-anchor="end" fill="#1a1a1a" stroke="#1a1a1a" stroke-width="0.1" transform="translate(139.3 539.66) scale(1.18 1) translate(-139.3 -539.66)">15</text>
<line x1="145" y1="600.5" x2="205.2" y2="600.5" stroke="#0a0a0a" stroke-width="1"/>
<line x1="154.5" y1="600.5" x2="154.5" y2="603.5" stroke="#0a0a0a" stroke-width="1"/>
<line x1="169.5" y1="600.5" x2="169.5" y2="603.5" stroke="#0a0a0a" stroke-width="1"/>
<line x1="183.5" y1="600.5" x2="183.5" y2="603.5" stroke="#0a0a0a" stroke-width="1"/>
<line x1="198.5" y1="600.5" x2="198.5" y2="603.5" stroke="#0a0a0a" stroke-width="1"/>
<text x="157.2" y="609.9" font-size="6.4" text-anchor="end" fill="#1a1a1a" stroke="#1a1a1a" stroke-width="0.18" transform="rotate(-45 157.2 609.9)">Ctrl</text>
<text x="172" y="609.9" font-size="6.4" text-anchor="end" fill="#1a1a1a" stroke="#1a1a1a" stroke-width="0.18" transform="rotate(-45 172 609.9)">Abx 14d + FMT</text>
<text x="186" y="609.9" font-size="6.4" text-anchor="end" fill="#1a1a1a" stroke="#1a1a1a" stroke-width="0.18" transform="rotate(-45 186 609.9)">Abx 14d</text>
<text x="200.6" y="609.9" font-size="6.4" text-anchor="end" fill="#1a1a1a" stroke="#1a1a1a" stroke-width="0.18" transform="rotate(-45 200.6 609.9)">Abx 21d</text>
<text x="176.8" y="495.8" font-size="8.4" text-anchor="middle" fill="#111" stroke="#111" stroke-width="0.18">White Blood Cells</text>
<polyline points="154.8,522.2 154.8,512.7 198.2,512.7 198.2,571" fill="none" stroke="#484848" stroke-width="0.95" stroke-linejoin="round"/>
<text x="176.5" y="511.6" font-size="5.6" text-anchor="middle" fill="#111" stroke="#111" stroke-width="0.2">*</text>
<polyline points="154.8,535.5 154.8,530.6 183.6,530.6 183.6,556.2" fill="none" stroke="#484848" stroke-width="0.95" stroke-linejoin="round"/>
<text x="169.2" y="528.2" font-size="5.8" text-anchor="middle" fill="#222" stroke="#222" stroke-width="0.18">ns</text>
<polyline points="154.8,552.9 154.8,548.8 169.6,548.8 169.6,560.7" fill="none" stroke="#484848" stroke-width="0.95" stroke-linejoin="round"/>
<text x="162.2" y="545.8" font-size="5.8" text-anchor="middle" fill="#222" stroke="#222" stroke-width="0.18">ns</text>
<circle cx="157.1" cy="558.3" r="2.5" fill="#244b6e" stroke="#03080e" stroke-width="0.9"/>
<circle cx="152.4" cy="561.6" r="2.5" fill="#244b6e" stroke="#03080e" stroke-width="0.9"/>
<circle cx="157.1" cy="569" r="2.5" fill="#244b6e" stroke="#03080e" stroke-width="0.9"/>
<circle cx="152.4" cy="572.4" r="2.5" fill="#244b6e" stroke="#03080e" stroke-width="0.9"/>
<circle cx="157.1" cy="576.4" r="2.5" fill="#244b6e" stroke="#03080e" stroke-width="0.9"/>
<circle cx="152.4" cy="577.8" r="2.5" fill="#244b6e" stroke="#03080e" stroke-width="0.9"/>
<circle cx="169.2" cy="565.7" r="2.5" fill="#3c9f4e" stroke="#0a2a0e" stroke-width="0.9"/>
<circle cx="169.6" cy="576.4" r="2.5" fill="#3c9f4e" stroke="#0a2a0e" stroke-width="0.9"/>
<circle cx="167.2" cy="580" r="2.5" fill="#3c9f4e" stroke="#0a2a0e" stroke-width="0.9"/>
<circle cx="171.4" cy="580.5" r="2.5" fill="#3c9f4e" stroke="#0a2a0e" stroke-width="0.9"/>
<circle cx="166.8" cy="582.3" r="2.5" fill="#3c9f4e" stroke="#0a2a0e" stroke-width="0.9"/>
<circle cx="170" cy="582" r="2.5" fill="#3c9f4e" stroke="#0a2a0e" stroke-width="0.9"/>
<circle cx="184" cy="561.6" r="2.5" fill="#9697c8" stroke="#191933" stroke-width="0.9"/>
<circle cx="182.7" cy="574.4" r="2.5" fill="#9697c8" stroke="#191933" stroke-width="0.9"/>
<circle cx="185.4" cy="573.8" r="2.5" fill="#9697c8" stroke="#191933" stroke-width="0.9"/>
<circle cx="181.4" cy="583.2" r="2.5" fill="#9697c8" stroke="#191933" stroke-width="0.9"/>
<circle cx="186.1" cy="587.2" r="2.5" fill="#9697c8" stroke="#191933" stroke-width="0.9"/>
<circle cx="183.4" cy="591.9" r="2.5" fill="#9697c8" stroke="#191933" stroke-width="0.9"/>
<circle cx="181.4" cy="595.9" r="2.5" fill="#9697c8" stroke="#191933" stroke-width="0.9"/>
<circle cx="186.1" cy="595.3" r="2.5" fill="#9697c8" stroke="#191933" stroke-width="0.9"/>
<circle cx="198.2" cy="575.8" r="2.5" fill="#a9173e" stroke="#2a0108" stroke-width="0.9"/>
<circle cx="195.5" cy="584.5" r="2.5" fill="#a9173e" stroke="#2a0108" stroke-width="0.9"/>
<circle cx="199.5" cy="584.5" r="2.5" fill="#a9173e" stroke="#2a0108" stroke-width="0.9"/>
<circle cx="200.8" cy="586.5" r="2.5" fill="#a9173e" stroke="#2a0108" stroke-width="0.9"/>
<circle cx="196.2" cy="593.2" r="2.5" fill="#a9173e" stroke="#2a0108" stroke-width="0.9"/>
<circle cx="199.5" cy="592.9" r="2.5" fill="#a9173e" stroke="#2a0108" stroke-width="0.9"/>
<text x="126.8" y="566.5" font-size="7.4" text-anchor="middle" fill="#111" stroke="#111" stroke-width="0.32" transform="rotate(-90 126.8 566.5)" textLength="19.9" lengthAdjust="spacingAndGlyphs">×10<tspan font-size="4.4" dy="-2.8">3</tspan><tspan dy="2.8">/uL</tspan></text>
<line x1="248.5" y1="535" x2="248.5" y2="601" stroke="#0a0a0a" stroke-width="1"/>
<line x1="245.3" y1="600.5" x2="248.5" y2="600.5" stroke="#0a0a0a" stroke-width="1"/>
<text x="242.3" y="602.66" font-size="6" text-anchor="end" fill="#1a1a1a" stroke="#1a1a1a" stroke-width="0.1" transform="translate(242.3 602.66) scale(1.18 1) translate(-242.3 -602.66)">0</text>
<line x1="245.3" y1="587.5" x2="248.5" y2="587.5" stroke="#0a0a0a" stroke-width="1"/>
<text x="242.3" y="589.66" font-size="6" text-anchor="end" fill="#1a1a1a" stroke="#1a1a1a" stroke-width="0.1" transform="translate(242.3 589.66) scale(1.18 1) translate(-242.3 -589.66)">2</text>
<line x1="245.3" y1="575.5" x2="248.5" y2="575.5" stroke="#0a0a0a" stroke-width="1"/>
<text x="242.3" y="577.66" font-size="6" text-anchor="end" fill="#1a1a1a" stroke="#1a1a1a" stroke-width="0.1" transform="translate(242.3 577.66) scale(1.18 1) translate(-242.3 -577.66)">4</text>
<line x1="245.3" y1="562.5" x2="248.5" y2="562.5" stroke="#0a0a0a" stroke-width="1"/>
<text x="242.3" y="564.66" font-size="6" text-anchor="end" fill="#1a1a1a" stroke="#1a1a1a" stroke-width="0.1" transform="translate(242.3 564.66) scale(1.18 1) translate(-242.3 -564.66)">6</text>
<line x1="245.3" y1="550.5" x2="248.5" y2="550.5" stroke="#0a0a0a" stroke-width="1"/>
<text x="242.3" y="552.66" font-size="6" text-anchor="end" fill="#1a1a1a" stroke="#1a1a1a" stroke-width="0.1" transform="translate(242.3 552.66) scale(1.18 1) translate(-242.3 -552.66)">8</text>
<line x1="245.3" y1="537.5" x2="248.5" y2="537.5" stroke="#0a0a0a" stroke-width="1"/>
<text x="242.3" y="539.66" font-size="6" text-anchor="end" fill="#1a1a1a" stroke="#1a1a1a" stroke-width="0.1" transform="translate(242.3 539.66) scale(1.18 1) translate(-242.3 -539.66)">10</text>
<line x1="248" y1="600.5" x2="311.7" y2="600.5" stroke="#0a0a0a" stroke-width="1"/>
<line x1="258.5" y1="600.5" x2="258.5" y2="603.5" stroke="#0a0a0a" stroke-width="1"/>
<line x1="272.5" y1="600.5" x2="272.5" y2="603.5" stroke="#0a0a0a" stroke-width="1"/>
<line x1="286.5" y1="600.5" x2="286.5" y2="603.5" stroke="#0a0a0a" stroke-width="1"/>
<line x1="301.5" y1="600.5" x2="301.5" y2="603.5" stroke="#0a0a0a" stroke-width="1"/>
<text x="260.8" y="609.8" font-size="6.4" text-anchor="end" fill="#1a1a1a" stroke="#1a1a1a" stroke-width="0.18" transform="rotate(-45 260.8 609.8)">Ctrl</text>
<text x="274.8" y="609.8" font-size="6.4" text-anchor="end" fill="#1a1a1a" stroke="#1a1a1a" stroke-width="0.18" transform="rotate(-45 274.8 609.8)">Abx 14d + FMT</text>
<text x="289" y="609.8" font-size="6.4" text-anchor="end" fill="#1a1a1a" stroke="#1a1a1a" stroke-width="0.18" transform="rotate(-45 289 609.8)">Abx 14d</text>
<text x="303.9" y="609.8" font-size="6.4" text-anchor="end" fill="#1a1a1a" stroke="#1a1a1a" stroke-width="0.18" transform="rotate(-45 303.9 609.8)">Abx 21d</text>
<text x="281" y="495.8" font-size="8.4" text-anchor="middle" fill="#111" stroke="#111" stroke-width="0.18">Absolute Lymphocytes</text>
<polyline points="258.4,520.2 258.4,508.9 301.5,508.9 301.5,562.2" fill="none" stroke="#484848" stroke-width="0.95" stroke-linejoin="round"/>
<text x="279.95" y="507.8" font-size="5.6" text-anchor="middle" fill="#111" stroke="#111" stroke-width="0.2">*</text>
<polyline points="258.4,529.1 258.4,524.2 286.6,524.2 286.6,546.9" fill="none" stroke="#484848" stroke-width="0.95" stroke-linejoin="round"/>
<text x="272.5" y="521.8" font-size="5.8" text-anchor="middle" fill="#222" stroke="#222" stroke-width="0.18">ns</text>
<polyline points="258.4,542 258.4,539.3 272.4,539.3 272.4,551.7" fill="none" stroke="#484848" stroke-width="0.95" stroke-linejoin="round"/>
<text x="265.4" y="536.8" font-size="5.8" text-anchor="middle" fill="#222" stroke="#222" stroke-width="0.18">ns</text>
<circle cx="260.8" cy="545.3" r="2.5" fill="#244b6e" stroke="#03080e" stroke-width="0.9"/>
<circle cx="255.9" cy="549.8" r="2.5" fill="#244b6e" stroke="#03080e" stroke-width="0.9"/>
<circle cx="260.8" cy="558.2" r="2.5" fill="#244b6e" stroke="#03080e" stroke-width="0.9"/>
<circle cx="255.9" cy="562.2" r="2.5" fill="#244b6e" stroke="#03080e" stroke-width="0.9"/>
<circle cx="260.8" cy="567.9" r="2.5" fill="#244b6e" stroke="#03080e" stroke-width="0.9"/>
<circle cx="255.9" cy="571.9" r="2.5" fill="#244b6e" stroke="#03080e" stroke-width="0.9"/>
<circle cx="272.9" cy="555.4" r="2.5" fill="#3c9f4e" stroke="#0a2a0e" stroke-width="0.9"/>
<circle cx="270.5" cy="574.4" r="2.5" fill="#3c9f4e" stroke="#0a2a0e" stroke-width="0.9"/>
<circle cx="275.3" cy="572.4" r="2.5" fill="#3c9f4e" stroke="#0a2a0e" stroke-width="0.9"/>
<circle cx="272.9" cy="576" r="2.5" fill="#3c9f4e" stroke="#0a2a0e" stroke-width="0.9"/>
<circle cx="275.3" cy="579.2" r="2.5" fill="#3c9f4e" stroke="#0a2a0e" stroke-width="0.9"/>
<circle cx="270.5" cy="583.3" r="2.5" fill="#3c9f4e" stroke="#0a2a0e" stroke-width="0.9"/>
<circle cx="286.6" cy="549.3" r="2.5" fill="#9697c8" stroke="#191933" stroke-width="0.9"/>
<circle cx="284.7" cy="566" r="2.5" fill="#9697c8" stroke="#191933" stroke-width="0.9"/>
<circle cx="289.6" cy="565.4" r="2.5" fill="#9697c8" stroke="#191933" stroke-width="0.9"/>
<circle cx="289.6" cy="580.3" r="2.5" fill="#9697c8" stroke="#191933" stroke-width="0.9"/>
<circle cx="284.7" cy="583.7" r="2.5" fill="#9697c8" stroke="#191933" stroke-width="0.9"/>
<circle cx="284.7" cy="590.5" r="2.5" fill="#9697c8" stroke="#191933" stroke-width="0.9"/>
<circle cx="289.6" cy="593.4" r="2.5" fill="#9697c8" stroke="#191933" stroke-width="0.9"/>
<circle cx="284.7" cy="597" r="2.5" fill="#9697c8" stroke="#191933" stroke-width="0.9"/>
<circle cx="301.5" cy="565.5" r="2.5" fill="#a9173e" stroke="#2a0108" stroke-width="0.9"/>
<circle cx="299.3" cy="579.2" r="2.5" fill="#a9173e" stroke="#2a0108" stroke-width="0.9"/>
<circle cx="304.1" cy="583.7" r="2.5" fill="#a9173e" stroke="#2a0108" stroke-width="0.9"/>
<circle cx="299.3" cy="584.9" r="2.5" fill="#a9173e" stroke="#2a0108" stroke-width="0.9"/>
<circle cx="304.1" cy="594.6" r="2.5" fill="#a9173e" stroke="#2a0108" stroke-width="0.9"/>
<circle cx="299.3" cy="599.4" r="2.5" fill="#a9173e" stroke="#2a0108" stroke-width="0.9"/>
<text x="230.5" y="566.5" font-size="7.4" text-anchor="middle" fill="#111" stroke="#111" stroke-width="0.32" transform="rotate(-90 230.5 566.5)" textLength="19.9" lengthAdjust="spacingAndGlyphs">×10<tspan font-size="4.4" dy="-2.8">3</tspan><tspan dy="2.8">/uL</tspan></text>
<line x1="369.5" y1="535.2" x2="369.5" y2="601" stroke="#0a0a0a" stroke-width="1"/>
<line x1="366.3" y1="538.5" x2="369.5" y2="538.5" stroke="#0a0a0a" stroke-width="1"/>
<text x="363.3" y="540.73" font-size="6.2" text-anchor="end" fill="#1a1a1a" stroke="#1a1a1a" stroke-width="0.1" transform="translate(363.3 540.73) scale(1 1) translate(-363.3 -540.73)">1×107</text>
<line x1="366.3" y1="559.5" x2="369.5" y2="559.5" stroke="#0a0a0a" stroke-width="1"/>
<text x="363.3" y="561.73" font-size="6.2" text-anchor="end" fill="#1a1a1a" stroke="#1a1a1a" stroke-width="0.1" transform="translate(363.3 561.73) scale(1 1) translate(-363.3 -561.73)">1×106</text>
<line x1="366.3" y1="580.5" x2="369.5" y2="580.5" stroke="#0a0a0a" stroke-width="1"/>
<text x="363.3" y="582.73" font-size="6.2" text-anchor="end" fill="#1a1a1a" stroke="#1a1a1a" stroke-width="0.1" transform="translate(363.3 582.73) scale(1 1) translate(-363.3 -582.73)">1×105</text>
<line x1="366.3" y1="600.5" x2="369.5" y2="600.5" stroke="#0a0a0a" stroke-width="1"/>
<text x="363.3" y="602.73" font-size="6.2" text-anchor="end" fill="#1a1a1a" stroke="#1a1a1a" stroke-width="0.1" transform="translate(363.3 602.73) scale(1 1) translate(-363.3 -602.73)">1×104</text>
<line x1="369" y1="600.5" x2="432" y2="600.5" stroke="#0a0a0a" stroke-width="1"/>
<line x1="378.5" y1="600.5" x2="378.5" y2="603.5" stroke="#0a0a0a" stroke-width="1"/>
<line x1="393.5" y1="600.5" x2="393.5" y2="603.5" stroke="#0a0a0a" stroke-width="1"/>
<line x1="407.5" y1="600.5" x2="407.5" y2="603.5" stroke="#0a0a0a" stroke-width="1"/>
<line x1="421.5" y1="600.5" x2="421.5" y2="603.5" stroke="#0a0a0a" stroke-width="1"/>
<text x="381.1" y="610.1" font-size="6.4" text-anchor="end" fill="#1a1a1a" stroke="#1a1a1a" stroke-width="0.18" transform="rotate(-45 381.1 610.1)">Ctrl</text>
<text x="395.7" y="610.1" font-size="6.4" text-anchor="end" fill="#1a1a1a" stroke="#1a1a1a" stroke-width="0.18" transform="rotate(-45 395.7 610.1)">Abx 14d + FMT</text>
<text x="409.8" y="610.1" font-size="6.4" text-anchor="end" fill="#1a1a1a" stroke="#1a1a1a" stroke-width="0.18" transform="rotate(-45 409.8 610.1)">Abx 14d</text>
<text x="424" y="610.1" font-size="6.4" text-anchor="end" fill="#1a1a1a" stroke="#1a1a1a" stroke-width="0.18" transform="rotate(-45 424 610.1)">Abx 21d</text>
<text x="399.1" y="495.8" font-size="8.4" text-anchor="middle" fill="#111" stroke="#111" stroke-width="0.18">Bone Marrow B220<tspan font-size="4.2" dy="-3.2">+</tspan></text>
<polyline points="378.7,520.2 378.7,509.7 421.6,509.7 421.6,557.4" fill="none" stroke="#484848" stroke-width="0.95" stroke-linejoin="round"/>
<text x="400.15" y="508.6" font-size="5.6" text-anchor="middle" fill="#111" stroke="#111" stroke-width="0.2">*</text>
<polyline points="378.7,529.1 378.7,524.6 407.4,524.6 407.4,550.9" fill="none" stroke="#484848" stroke-width="0.95" stroke-linejoin="round"/>
<text x="393.05" y="522.2" font-size="5.8" text-anchor="middle" fill="#222" stroke="#222" stroke-width="0.18">ns</text>
<polyline points="378.7,543.6 378.7,539.6 393.3,539.6 393.3,546.1" fill="none" stroke="#484848" stroke-width="0.95" stroke-linejoin="round"/>
<text x="386" y="537.2" font-size="5.8" text-anchor="middle" fill="#222" stroke="#222" stroke-width="0.18">ns</text>
<circle cx="376.3" cy="548.5" r="2.5" fill="#244b6e" stroke="#03080e" stroke-width="0.9"/>
<circle cx="381.2" cy="551.7" r="2.5" fill="#244b6e" stroke="#03080e" stroke-width="0.9"/>
<circle cx="376.3" cy="554.5" r="2.5" fill="#244b6e" stroke="#03080e" stroke-width="0.9"/>
<circle cx="380.5" cy="556" r="2.5" fill="#244b6e" stroke="#03080e" stroke-width="0.9"/>
<circle cx="378" cy="558.5" r="2.5" fill="#244b6e" stroke="#03080e" stroke-width="0.9"/>
<circle cx="381" cy="560" r="2.5" fill="#244b6e" stroke="#03080e" stroke-width="0.9"/>
<circle cx="378.5" cy="563" r="2.5" fill="#244b6e" stroke="#03080e" stroke-width="0.9"/>
<circle cx="378.7" cy="586.5" r="2.5" fill="#244b6e" stroke="#03080e" stroke-width="0.9"/>
<circle cx="393.3" cy="550.9" r="2.5" fill="#3c9f4e" stroke="#0a2a0e" stroke-width="0.9"/>
<circle cx="393.3" cy="556.6" r="2.5" fill="#3c9f4e" stroke="#0a2a0e" stroke-width="0.9"/>
<circle cx="396" cy="562.2" r="2.5" fill="#3c9f4e" stroke="#0a2a0e" stroke-width="0.9"/>
<circle cx="391" cy="566.3" r="2.5" fill="#3c9f4e" stroke="#0a2a0e" stroke-width="0.9"/>
<circle cx="391" cy="576.8" r="2.5" fill="#3c9f4e" stroke="#0a2a0e" stroke-width="0.9"/>
<circle cx="396" cy="576.8" r="2.5" fill="#3c9f4e" stroke="#0a2a0e" stroke-width="0.9"/>
<circle cx="393.3" cy="582.4" r="2.5" fill="#3c9f4e" stroke="#0a2a0e" stroke-width="0.9"/>
<circle cx="393.3" cy="588.9" r="2.5" fill="#3c9f4e" stroke="#0a2a0e" stroke-width="0.9"/>
<circle cx="405.4" cy="556.6" r="2.5" fill="#9697c8" stroke="#191933" stroke-width="0.9"/>
<circle cx="409.5" cy="557.3" r="2.5" fill="#9697c8" stroke="#191933" stroke-width="0.9"/>
<circle cx="407.4" cy="559.5" r="2.5" fill="#9697c8" stroke="#191933" stroke-width="0.9"/>
<circle cx="407.4" cy="566.3" r="2.5" fill="#9697c8" stroke="#191933" stroke-width="0.9"/>
<circle cx="407.4" cy="570.3" r="2.5" fill="#9697c8" stroke="#191933" stroke-width="0.9"/>
<circle cx="407.4" cy="587.3" r="2.5" fill="#9697c8" stroke="#191933" stroke-width="0.9"/>
<circle cx="420" cy="561.4" r="2.5" fill="#a9173e" stroke="#2a0108" stroke-width="0.9"/>
<circle cx="423.5" cy="562.5" r="2.5" fill="#a9173e" stroke="#2a0108" stroke-width="0.9"/>
<circle cx="419.5" cy="565.5" r="2.5" fill="#a9173e" stroke="#2a0108" stroke-width="0.9"/>
<circle cx="424.5" cy="566.5" r="2.5" fill="#a9173e" stroke="#2a0108" stroke-width="0.9"/>
<circle cx="421.5" cy="569" r="2.5" fill="#a9173e" stroke="#2a0108" stroke-width="0.9"/>
<circle cx="419.8" cy="572" r="2.5" fill="#a9173e" stroke="#2a0108" stroke-width="0.9"/>
<circle cx="424" cy="573" r="2.5" fill="#a9173e" stroke="#2a0108" stroke-width="0.9"/>
<circle cx="421.2" cy="575.5" r="2.5" fill="#a9173e" stroke="#2a0108" stroke-width="0.9"/>
<circle cx="423.5" cy="578.5" r="2.5" fill="#a9173e" stroke="#2a0108" stroke-width="0.9"/>
<circle cx="420" cy="580.5" r="2.5" fill="#a9173e" stroke="#2a0108" stroke-width="0.9"/>
<circle cx="422.4" cy="588.6" r="2.5" fill="#a9173e" stroke="#2a0108" stroke-width="0.9"/>
<circle cx="420.8" cy="592.1" r="2.5" fill="#a9173e" stroke="#2a0108" stroke-width="0.9"/>
<line x1="374.45" y1="555.5" x2="382.95" y2="555.5" stroke="#111" stroke-width="0.95"/>
<line x1="378.7" y1="553" x2="378.7" y2="555.5" stroke="#111" stroke-width="0.95"/>
<line x1="377.1" y1="553" x2="380.3" y2="553" stroke="#111" stroke-width="0.95"/>
<line x1="389.05" y1="567" x2="397.55" y2="567" stroke="#111" stroke-width="0.95"/>
<line x1="393.3" y1="564.5" x2="393.3" y2="567" stroke="#111" stroke-width="0.95"/>
<line x1="391.7" y1="564.5" x2="394.9" y2="564.5" stroke="#111" stroke-width="0.95"/>
<line x1="403.15" y1="564.5" x2="411.65" y2="564.5" stroke="#111" stroke-width="0.95"/>
<line x1="407.4" y1="562" x2="407.4" y2="564.5" stroke="#111" stroke-width="0.95"/>
<line x1="405.8" y1="562" x2="409" y2="562" stroke="#111" stroke-width="0.95"/>
<line x1="417.35" y1="570" x2="425.85" y2="570" stroke="#111" stroke-width="0.95"/>
<line x1="421.6" y1="568" x2="421.6" y2="570" stroke="#111" stroke-width="0.95"/>
<line x1="420" y1="568" x2="423.2" y2="568" stroke="#111" stroke-width="0.95"/>
<text x="337.6" y="567.6" font-size="7.3" text-anchor="middle" fill="#111" stroke="#111" stroke-width="0.32" transform="rotate(-90 337.6 567.6)" textLength="39.4" lengthAdjust="spacingAndGlyphs">Cells per femur</text>
</svg>
</body></html>
